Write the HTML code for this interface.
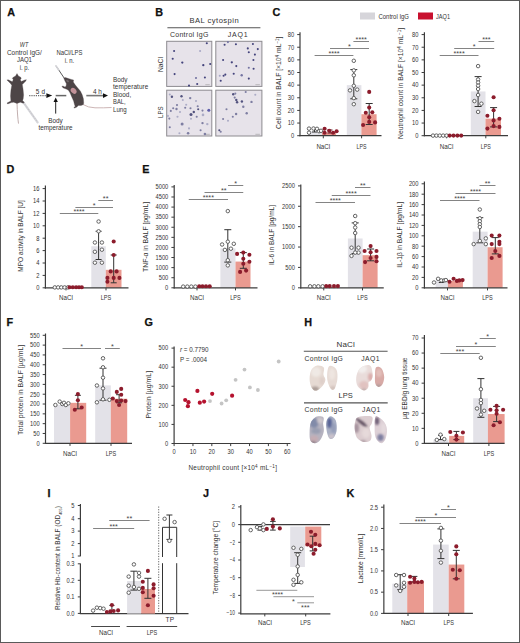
<!DOCTYPE html>
<html><head><meta charset="utf-8"><style>
html,body{margin:0;padding:0;background:#fff;}
body{width:520px;height:643px;overflow:hidden;}
svg{display:block;font-family:"Liberation Sans", sans-serif;}
</style></head><body>
<svg width="520" height="643" viewBox="0 0 520 643">
<rect x="0" y="0" width="520" height="643" fill="#fff"/>
<text x="7.2" y="15.9" font-size="10.8" text-anchor="start" fill="#111" font-weight="bold" stroke="#111" stroke-width="0.25">A</text>
<text x="155.2" y="16.3" font-size="10.8" text-anchor="start" fill="#111" font-weight="bold" stroke="#111" stroke-width="0.25">B</text>
<text x="272.6" y="16.3" font-size="10.8" text-anchor="start" fill="#111" font-weight="bold" stroke="#111" stroke-width="0.25">C</text>
<text x="6.4" y="173.1" font-size="10.8" text-anchor="start" fill="#111" font-weight="bold" stroke="#111" stroke-width="0.25">D</text>
<text x="142.2" y="173.3" font-size="10.8" text-anchor="start" fill="#111" font-weight="bold" stroke="#111" stroke-width="0.25">E</text>
<text x="6.4" y="325.9" font-size="10.8" text-anchor="start" fill="#111" font-weight="bold" stroke="#111" stroke-width="0.25">F</text>
<text x="144.6" y="326.1" font-size="10.8" text-anchor="start" fill="#111" font-weight="bold" stroke="#111" stroke-width="0.25">G</text>
<text x="304.2" y="326.3" font-size="10.8" text-anchor="start" fill="#111" font-weight="bold" stroke="#111" stroke-width="0.25">H</text>
<text x="47.4" y="496.7" font-size="10.8" text-anchor="start" fill="#111" font-weight="bold" stroke="#111" stroke-width="0.25">I</text>
<text x="203" y="497.1" font-size="10.8" text-anchor="start" fill="#111" font-weight="bold" stroke="#111" stroke-width="0.25">J</text>
<text x="346.4" y="497.1" font-size="10.8" text-anchor="start" fill="#111" font-weight="bold" stroke="#111" stroke-width="0.25">K</text>
<rect x="360" y="12.5" width="15" height="7" fill="#d6d5da"/>
<text x="378.5" y="18.6" font-size="6.6" text-anchor="start" fill="#333333" textLength="30.5" lengthAdjust="spacingAndGlyphs">Control IgG</text>
<rect x="418" y="12.5" width="15" height="7" fill="#c8102e"/>
<text x="436" y="18.6" font-size="6.6" text-anchor="start" fill="#333333" textLength="14" lengthAdjust="spacingAndGlyphs">JAQ1</text>
<rect x="308" y="131.28" width="14" height="4.42" fill="#e3e2e8"/>
<rect x="322" y="132.54" width="14" height="3.16" fill="#ea9a90"/>
<rect x="346.8" y="85.14" width="14.6" height="50.56" fill="#e3e2e8"/>
<rect x="361.4" y="114.21" width="15.2" height="21.49" fill="#ea9a90"/>
<line x1="300" y1="32.3" x2="300" y2="136.3" stroke="#3c3c3c" stroke-width="1.2"/>
<line x1="299.4" y1="135.7" x2="381.5" y2="135.7" stroke="#3c3c3c" stroke-width="1.2"/>
<line x1="297.2" y1="135.7" x2="300" y2="135.7" stroke="#3c3c3c" stroke-width="1"/>
<text x="294.1" y="138" font-size="6.4" text-anchor="end" fill="#333333" textLength="3.2" lengthAdjust="spacingAndGlyphs">0</text>
<line x1="297.2" y1="123.06" x2="300" y2="123.06" stroke="#3c3c3c" stroke-width="1"/>
<text x="294.1" y="125.36" font-size="6.4" text-anchor="end" fill="#333333" textLength="6.41" lengthAdjust="spacingAndGlyphs">10</text>
<line x1="297.2" y1="110.42" x2="300" y2="110.42" stroke="#3c3c3c" stroke-width="1"/>
<text x="294.1" y="112.72" font-size="6.4" text-anchor="end" fill="#333333" textLength="6.41" lengthAdjust="spacingAndGlyphs">20</text>
<line x1="297.2" y1="97.78" x2="300" y2="97.78" stroke="#3c3c3c" stroke-width="1"/>
<text x="294.1" y="100.08" font-size="6.4" text-anchor="end" fill="#333333" textLength="6.41" lengthAdjust="spacingAndGlyphs">30</text>
<line x1="297.2" y1="85.14" x2="300" y2="85.14" stroke="#3c3c3c" stroke-width="1"/>
<text x="294.1" y="87.44" font-size="6.4" text-anchor="end" fill="#333333" textLength="6.41" lengthAdjust="spacingAndGlyphs">40</text>
<line x1="297.2" y1="72.5" x2="300" y2="72.5" stroke="#3c3c3c" stroke-width="1"/>
<text x="294.1" y="74.8" font-size="6.4" text-anchor="end" fill="#333333" textLength="6.41" lengthAdjust="spacingAndGlyphs">50</text>
<line x1="297.2" y1="59.86" x2="300" y2="59.86" stroke="#3c3c3c" stroke-width="1"/>
<text x="294.1" y="62.16" font-size="6.4" text-anchor="end" fill="#333333" textLength="6.41" lengthAdjust="spacingAndGlyphs">60</text>
<line x1="297.2" y1="47.22" x2="300" y2="47.22" stroke="#3c3c3c" stroke-width="1"/>
<text x="294.1" y="49.52" font-size="6.4" text-anchor="end" fill="#333333" textLength="6.41" lengthAdjust="spacingAndGlyphs">70</text>
<line x1="297.2" y1="34.58" x2="300" y2="34.58" stroke="#3c3c3c" stroke-width="1"/>
<text x="294.1" y="36.88" font-size="6.4" text-anchor="end" fill="#333333" textLength="6.41" lengthAdjust="spacingAndGlyphs">80</text>
<line x1="314.6" y1="55.5" x2="353.4" y2="55.5" stroke="#767676" stroke-width="0.9"/>
<text x="334" y="55.8" font-size="7.2" text-anchor="middle" fill="#444">****</text>
<line x1="330" y1="48.5" x2="369" y2="48.5" stroke="#767676" stroke-width="0.9"/>
<text x="349.5" y="48.8" font-size="7.2" text-anchor="middle" fill="#444">*</text>
<line x1="353.4" y1="41.5" x2="369" y2="41.5" stroke="#767676" stroke-width="0.9"/>
<text x="361.2" y="41.8" font-size="7.2" text-anchor="middle" fill="#444">****</text>
<text x="323.3" y="148.7" font-size="7" text-anchor="middle" fill="#333333" textLength="13.8" lengthAdjust="spacingAndGlyphs">NaCl</text>
<line x1="323.3" y1="135.7" x2="323.3" y2="138.3" stroke="#3c3c3c" stroke-width="1"/>
<text x="361.6" y="148.7" font-size="7" text-anchor="middle" fill="#333333" textLength="10" lengthAdjust="spacingAndGlyphs">LPS</text>
<line x1="361.6" y1="135.7" x2="361.6" y2="138.3" stroke="#3c3c3c" stroke-width="1"/>
<text x="281" y="82.7" font-size="6.9" text-anchor="middle" fill="#333333" textLength="92.4" lengthAdjust="spacingAndGlyphs" transform="rotate(-90 281 82.7)">Cell count in BALF [×10<tspan dy="-2.4" font-size="4.6">4</tspan><tspan dy="2.4"> mL</tspan><tspan dy="-2.4" font-size="4.6">−1</tspan><tspan dy="2.4">]</tspan></text>
<line x1="314.5" y1="129" x2="314.5" y2="132" stroke="#333" stroke-width="1"/>
<line x1="312" y1="129" x2="317" y2="129" stroke="#333" stroke-width="1"/>
<line x1="312" y1="132" x2="317" y2="132" stroke="#333" stroke-width="1"/>
<circle cx="309" cy="128.6" r="1.75" fill="#fff" stroke="#5c5c5c" stroke-width="0.95"/>
<circle cx="309" cy="132.7" r="1.75" fill="#fff" stroke="#5c5c5c" stroke-width="0.95"/>
<circle cx="313.5" cy="128.5" r="1.75" fill="#fff" stroke="#5c5c5c" stroke-width="0.95"/>
<circle cx="317" cy="128.8" r="1.75" fill="#fff" stroke="#5c5c5c" stroke-width="0.95"/>
<circle cx="319" cy="131.2" r="1.75" fill="#fff" stroke="#5c5c5c" stroke-width="0.95"/>
<circle cx="321" cy="130.8" r="1.75" fill="#fff" stroke="#5c5c5c" stroke-width="0.95"/>
<line x1="330" y1="130" x2="330" y2="133" stroke="#5a1a22" stroke-width="1"/>
<line x1="327.5" y1="130" x2="332.5" y2="130" stroke="#5a1a22" stroke-width="1"/>
<line x1="327.5" y1="133" x2="332.5" y2="133" stroke="#5a1a22" stroke-width="1"/>
<circle cx="324.6" cy="128.8" r="2.05" fill="#8c1c2c"/>
<circle cx="324.6" cy="132.7" r="2.05" fill="#8c1c2c"/>
<circle cx="329.2" cy="130.7" r="2.05" fill="#8c1c2c"/>
<circle cx="333.1" cy="132.7" r="2.05" fill="#8c1c2c"/>
<circle cx="336.6" cy="131.2" r="2.05" fill="#8c1c2c"/>
<line x1="353.8" y1="98.8" x2="353.8" y2="69.6" stroke="#333" stroke-width="1"/>
<line x1="350.3" y1="98.8" x2="357.3" y2="98.8" stroke="#333" stroke-width="1"/>
<line x1="350.3" y1="69.6" x2="357.3" y2="69.6" stroke="#333" stroke-width="1"/>
<circle cx="353.8" cy="60.8" r="1.75" fill="#fff" stroke="#5c5c5c" stroke-width="0.95"/>
<circle cx="353.8" cy="70.4" r="1.75" fill="#fff" stroke="#5c5c5c" stroke-width="0.95"/>
<circle cx="353.8" cy="75.3" r="1.75" fill="#fff" stroke="#5c5c5c" stroke-width="0.95"/>
<circle cx="353.8" cy="85.8" r="1.75" fill="#fff" stroke="#5c5c5c" stroke-width="0.95"/>
<circle cx="350" cy="90.4" r="1.75" fill="#fff" stroke="#5c5c5c" stroke-width="0.95"/>
<circle cx="357.2" cy="89.6" r="1.75" fill="#fff" stroke="#5c5c5c" stroke-width="0.95"/>
<circle cx="353.8" cy="98.1" r="1.75" fill="#fff" stroke="#5c5c5c" stroke-width="0.95"/>
<circle cx="353.8" cy="104.2" r="1.75" fill="#fff" stroke="#5c5c5c" stroke-width="0.95"/>
<line x1="369.2" y1="124.5" x2="369.2" y2="103.5" stroke="#333" stroke-width="1"/>
<line x1="365.7" y1="124.5" x2="372.7" y2="124.5" stroke="#333" stroke-width="1"/>
<line x1="365.7" y1="103.5" x2="372.7" y2="103.5" stroke="#333" stroke-width="1"/>
<circle cx="369.2" cy="91.9" r="2.05" fill="#8c1c2c"/>
<circle cx="369.2" cy="107.6" r="2.05" fill="#8c1c2c"/>
<circle cx="365.8" cy="112.7" r="2.05" fill="#8c1c2c"/>
<circle cx="372.3" cy="112.2" r="2.05" fill="#8c1c2c"/>
<circle cx="369.2" cy="117.3" r="2.05" fill="#8c1c2c"/>
<circle cx="369.2" cy="121.9" r="2.05" fill="#8c1c2c"/>
<circle cx="363.1" cy="125" r="2.05" fill="#8c1c2c"/>
<circle cx="375.1" cy="122.4" r="2.05" fill="#8c1c2c"/>
<rect x="470.8" y="91.46" width="14.7" height="44.24" fill="#e3e2e8"/>
<rect x="485.5" y="118.64" width="15.5" height="17.06" fill="#ea9a90"/>
<line x1="424.4" y1="32.3" x2="424.4" y2="136.3" stroke="#3c3c3c" stroke-width="1.2"/>
<line x1="423.8" y1="135.7" x2="508" y2="135.7" stroke="#3c3c3c" stroke-width="1.2"/>
<line x1="421.6" y1="135.7" x2="424.4" y2="135.7" stroke="#3c3c3c" stroke-width="1"/>
<text x="418.5" y="138" font-size="6.4" text-anchor="end" fill="#333333" textLength="3.2" lengthAdjust="spacingAndGlyphs">0</text>
<line x1="421.6" y1="123.06" x2="424.4" y2="123.06" stroke="#3c3c3c" stroke-width="1"/>
<text x="418.5" y="125.36" font-size="6.4" text-anchor="end" fill="#333333" textLength="6.41" lengthAdjust="spacingAndGlyphs">10</text>
<line x1="421.6" y1="110.42" x2="424.4" y2="110.42" stroke="#3c3c3c" stroke-width="1"/>
<text x="418.5" y="112.72" font-size="6.4" text-anchor="end" fill="#333333" textLength="6.41" lengthAdjust="spacingAndGlyphs">20</text>
<line x1="421.6" y1="97.78" x2="424.4" y2="97.78" stroke="#3c3c3c" stroke-width="1"/>
<text x="418.5" y="100.08" font-size="6.4" text-anchor="end" fill="#333333" textLength="6.41" lengthAdjust="spacingAndGlyphs">30</text>
<line x1="421.6" y1="85.14" x2="424.4" y2="85.14" stroke="#3c3c3c" stroke-width="1"/>
<text x="418.5" y="87.44" font-size="6.4" text-anchor="end" fill="#333333" textLength="6.41" lengthAdjust="spacingAndGlyphs">40</text>
<line x1="421.6" y1="72.5" x2="424.4" y2="72.5" stroke="#3c3c3c" stroke-width="1"/>
<text x="418.5" y="74.8" font-size="6.4" text-anchor="end" fill="#333333" textLength="6.41" lengthAdjust="spacingAndGlyphs">50</text>
<line x1="421.6" y1="59.86" x2="424.4" y2="59.86" stroke="#3c3c3c" stroke-width="1"/>
<text x="418.5" y="62.16" font-size="6.4" text-anchor="end" fill="#333333" textLength="6.41" lengthAdjust="spacingAndGlyphs">60</text>
<line x1="421.6" y1="47.22" x2="424.4" y2="47.22" stroke="#3c3c3c" stroke-width="1"/>
<text x="418.5" y="49.52" font-size="6.4" text-anchor="end" fill="#333333" textLength="6.41" lengthAdjust="spacingAndGlyphs">70</text>
<line x1="421.6" y1="34.58" x2="424.4" y2="34.58" stroke="#3c3c3c" stroke-width="1"/>
<text x="418.5" y="36.88" font-size="6.4" text-anchor="end" fill="#333333" textLength="6.41" lengthAdjust="spacingAndGlyphs">80</text>
<line x1="439.7" y1="55.5" x2="478.5" y2="55.5" stroke="#767676" stroke-width="0.9"/>
<text x="459.1" y="55.8" font-size="7.2" text-anchor="middle" fill="#444">****</text>
<line x1="454.2" y1="48.5" x2="494.2" y2="48.5" stroke="#767676" stroke-width="0.9"/>
<text x="474.2" y="48.8" font-size="7.2" text-anchor="middle" fill="#444">*</text>
<line x1="478.5" y1="41.5" x2="494.2" y2="41.5" stroke="#767676" stroke-width="0.9"/>
<text x="486.35" y="41.8" font-size="7.2" text-anchor="middle" fill="#444">***</text>
<text x="446.6" y="148.7" font-size="7" text-anchor="middle" fill="#333333" textLength="13.8" lengthAdjust="spacingAndGlyphs">NaCl</text>
<line x1="446.6" y1="135.7" x2="446.6" y2="138.3" stroke="#3c3c3c" stroke-width="1"/>
<text x="485.8" y="148.7" font-size="7" text-anchor="middle" fill="#333333" textLength="10" lengthAdjust="spacingAndGlyphs">LPS</text>
<line x1="485.8" y1="135.7" x2="485.8" y2="138.3" stroke="#3c3c3c" stroke-width="1"/>
<text x="403" y="83.4" font-size="6.9" text-anchor="middle" fill="#333333" textLength="111" lengthAdjust="spacingAndGlyphs" transform="rotate(-90 403 83.4)">Neutrophil count in BALF [×10<tspan dy="-2.4" font-size="4.6">4</tspan><tspan dy="2.4"> mL</tspan><tspan dy="-2.4" font-size="4.6">−1</tspan><tspan dy="2.4">]</tspan></text>
<circle cx="433" cy="135.6" r="1.75" fill="#fff" stroke="#5c5c5c" stroke-width="0.95"/>
<circle cx="436.4" cy="135.6" r="1.75" fill="#fff" stroke="#5c5c5c" stroke-width="0.95"/>
<circle cx="439.8" cy="135.6" r="1.75" fill="#fff" stroke="#5c5c5c" stroke-width="0.95"/>
<circle cx="443.2" cy="135.6" r="1.75" fill="#fff" stroke="#5c5c5c" stroke-width="0.95"/>
<circle cx="446.6" cy="135.6" r="1.75" fill="#fff" stroke="#5c5c5c" stroke-width="0.95"/>
<circle cx="449.7" cy="135.6" r="2.05" fill="#8c1c2c"/>
<circle cx="453.5" cy="135.6" r="2.05" fill="#8c1c2c"/>
<circle cx="457.4" cy="135.6" r="2.05" fill="#8c1c2c"/>
<circle cx="461.2" cy="135.6" r="2.05" fill="#8c1c2c"/>
<line x1="478.1" y1="106.5" x2="478.1" y2="76.6" stroke="#333" stroke-width="1"/>
<line x1="474.6" y1="106.5" x2="481.6" y2="106.5" stroke="#333" stroke-width="1"/>
<line x1="474.6" y1="76.6" x2="481.6" y2="76.6" stroke="#333" stroke-width="1"/>
<circle cx="478.1" cy="66.1" r="1.75" fill="#fff" stroke="#5c5c5c" stroke-width="0.95"/>
<circle cx="478.1" cy="79.5" r="1.75" fill="#fff" stroke="#5c5c5c" stroke-width="0.95"/>
<circle cx="478.1" cy="82.5" r="1.75" fill="#fff" stroke="#5c5c5c" stroke-width="0.95"/>
<circle cx="478.1" cy="85.7" r="1.75" fill="#fff" stroke="#5c5c5c" stroke-width="0.95"/>
<circle cx="478.1" cy="89" r="1.75" fill="#fff" stroke="#5c5c5c" stroke-width="0.95"/>
<circle cx="478.1" cy="95" r="1.75" fill="#fff" stroke="#5c5c5c" stroke-width="0.95"/>
<circle cx="474.4" cy="101.1" r="1.75" fill="#fff" stroke="#5c5c5c" stroke-width="0.95"/>
<circle cx="481.4" cy="103.7" r="1.75" fill="#fff" stroke="#5c5c5c" stroke-width="0.95"/>
<circle cx="478.1" cy="111.9" r="1.75" fill="#fff" stroke="#5c5c5c" stroke-width="0.95"/>
<line x1="493.6" y1="126.9" x2="493.6" y2="107.6" stroke="#333" stroke-width="1"/>
<line x1="490.1" y1="126.9" x2="497.1" y2="126.9" stroke="#333" stroke-width="1"/>
<line x1="490.1" y1="107.6" x2="497.1" y2="107.6" stroke="#333" stroke-width="1"/>
<circle cx="493.6" cy="97.2" r="2.05" fill="#8c1c2c"/>
<circle cx="487.4" cy="115.8" r="2.05" fill="#8c1c2c"/>
<circle cx="493.6" cy="110.2" r="2.05" fill="#8c1c2c"/>
<circle cx="499.4" cy="118.7" r="2.05" fill="#8c1c2c"/>
<circle cx="493.6" cy="120.4" r="2.05" fill="#8c1c2c"/>
<circle cx="493.6" cy="126.1" r="2.05" fill="#8c1c2c"/>
<circle cx="487.4" cy="128.6" r="2.05" fill="#8c1c2c"/>
<circle cx="499.4" cy="126.9" r="2.05" fill="#8c1c2c"/>
<rect x="91.3" y="246.26" width="14.5" height="41.54" fill="#e3e2e8"/>
<rect x="105.8" y="269.82" width="15.7" height="17.98" fill="#ea9a90"/>
<line x1="45.4" y1="185.5" x2="45.4" y2="288.4" stroke="#3c3c3c" stroke-width="1.2"/>
<line x1="44.8" y1="287.8" x2="128.5" y2="287.8" stroke="#3c3c3c" stroke-width="1.2"/>
<line x1="42.6" y1="287.8" x2="45.4" y2="287.8" stroke="#3c3c3c" stroke-width="1"/>
<text x="39.5" y="290.1" font-size="6.4" text-anchor="end" fill="#333333" textLength="3.2" lengthAdjust="spacingAndGlyphs">0</text>
<line x1="42.6" y1="275.4" x2="45.4" y2="275.4" stroke="#3c3c3c" stroke-width="1"/>
<text x="39.5" y="277.7" font-size="6.4" text-anchor="end" fill="#333333" textLength="3.2" lengthAdjust="spacingAndGlyphs">2</text>
<line x1="42.6" y1="263" x2="45.4" y2="263" stroke="#3c3c3c" stroke-width="1"/>
<text x="39.5" y="265.3" font-size="6.4" text-anchor="end" fill="#333333" textLength="3.2" lengthAdjust="spacingAndGlyphs">4</text>
<line x1="42.6" y1="250.6" x2="45.4" y2="250.6" stroke="#3c3c3c" stroke-width="1"/>
<text x="39.5" y="252.9" font-size="6.4" text-anchor="end" fill="#333333" textLength="3.2" lengthAdjust="spacingAndGlyphs">6</text>
<line x1="42.6" y1="238.2" x2="45.4" y2="238.2" stroke="#3c3c3c" stroke-width="1"/>
<text x="39.5" y="240.5" font-size="6.4" text-anchor="end" fill="#333333" textLength="3.2" lengthAdjust="spacingAndGlyphs">8</text>
<line x1="42.6" y1="225.8" x2="45.4" y2="225.8" stroke="#3c3c3c" stroke-width="1"/>
<text x="39.5" y="228.1" font-size="6.4" text-anchor="end" fill="#333333" textLength="6.41" lengthAdjust="spacingAndGlyphs">10</text>
<line x1="42.6" y1="213.4" x2="45.4" y2="213.4" stroke="#3c3c3c" stroke-width="1"/>
<text x="39.5" y="215.7" font-size="6.4" text-anchor="end" fill="#333333" textLength="6.41" lengthAdjust="spacingAndGlyphs">12</text>
<line x1="42.6" y1="201" x2="45.4" y2="201" stroke="#3c3c3c" stroke-width="1"/>
<text x="39.5" y="203.3" font-size="6.4" text-anchor="end" fill="#333333" textLength="6.41" lengthAdjust="spacingAndGlyphs">14</text>
<line x1="42.6" y1="188.6" x2="45.4" y2="188.6" stroke="#3c3c3c" stroke-width="1"/>
<text x="39.5" y="190.9" font-size="6.4" text-anchor="end" fill="#333333" textLength="6.41" lengthAdjust="spacingAndGlyphs">16</text>
<line x1="59.8" y1="213.5" x2="98.3" y2="213.5" stroke="#767676" stroke-width="0.9"/>
<text x="79.05" y="213.8" font-size="7.2" text-anchor="middle" fill="#444">****</text>
<line x1="75.4" y1="207.5" x2="113" y2="207.5" stroke="#767676" stroke-width="0.9"/>
<text x="94.2" y="207.8" font-size="7.2" text-anchor="middle" fill="#444">*</text>
<line x1="98.3" y1="200.5" x2="113" y2="200.5" stroke="#767676" stroke-width="0.9"/>
<text x="105.65" y="200.8" font-size="7.2" text-anchor="middle" fill="#444">**</text>
<text x="66" y="300.4" font-size="7" text-anchor="middle" fill="#333333" textLength="13.8" lengthAdjust="spacingAndGlyphs">NaCl</text>
<line x1="66" y1="287.8" x2="66" y2="290.4" stroke="#3c3c3c" stroke-width="1"/>
<text x="106" y="300.4" font-size="7" text-anchor="middle" fill="#333333" textLength="10.5" lengthAdjust="spacingAndGlyphs">LPS</text>
<line x1="106" y1="287.8" x2="106" y2="290.4" stroke="#3c3c3c" stroke-width="1"/>
<text x="22.6" y="236" font-size="6.9" text-anchor="middle" fill="#333333" textLength="71.4" lengthAdjust="spacingAndGlyphs" transform="rotate(-90 22.6 236)">MPO activity in BALF [U]</text>
<circle cx="54.8" cy="287.4" r="1.75" fill="#fff" stroke="#5c5c5c" stroke-width="0.95"/>
<circle cx="58.1" cy="287.4" r="1.75" fill="#fff" stroke="#5c5c5c" stroke-width="0.95"/>
<circle cx="61.3" cy="287.4" r="1.75" fill="#fff" stroke="#5c5c5c" stroke-width="0.95"/>
<circle cx="64.6" cy="287.4" r="1.75" fill="#fff" stroke="#5c5c5c" stroke-width="0.95"/>
<circle cx="67.9" cy="287.4" r="1.75" fill="#fff" stroke="#5c5c5c" stroke-width="0.95"/>
<circle cx="69.5" cy="287.2" r="2.05" fill="#8c1c2c"/>
<circle cx="72.8" cy="287.2" r="2.05" fill="#8c1c2c"/>
<circle cx="76.1" cy="287.2" r="2.05" fill="#8c1c2c"/>
<circle cx="79" cy="287.2" r="2.05" fill="#8c1c2c"/>
<circle cx="81.8" cy="287.2" r="2.05" fill="#8c1c2c"/>
<line x1="98.6" y1="259.5" x2="98.6" y2="231.3" stroke="#333" stroke-width="1"/>
<line x1="95.6" y1="259.5" x2="101.6" y2="259.5" stroke="#333" stroke-width="1"/>
<line x1="95.6" y1="231.3" x2="101.6" y2="231.3" stroke="#333" stroke-width="1"/>
<circle cx="98.6" cy="221.5" r="1.75" fill="#fff" stroke="#5c5c5c" stroke-width="0.95"/>
<circle cx="98.6" cy="231.3" r="1.75" fill="#fff" stroke="#5c5c5c" stroke-width="0.95"/>
<circle cx="94.9" cy="242.5" r="1.75" fill="#fff" stroke="#5c5c5c" stroke-width="0.95"/>
<circle cx="101.9" cy="242.5" r="1.75" fill="#fff" stroke="#5c5c5c" stroke-width="0.95"/>
<circle cx="94.9" cy="251.8" r="1.75" fill="#fff" stroke="#5c5c5c" stroke-width="0.95"/>
<circle cx="101.9" cy="249.7" r="1.75" fill="#fff" stroke="#5c5c5c" stroke-width="0.95"/>
<circle cx="94.9" cy="262.7" r="1.75" fill="#fff" stroke="#5c5c5c" stroke-width="0.95"/>
<circle cx="101.9" cy="262.7" r="1.75" fill="#fff" stroke="#5c5c5c" stroke-width="0.95"/>
<line x1="113.7" y1="282.8" x2="113.7" y2="255" stroke="#333" stroke-width="1"/>
<line x1="110.7" y1="282.8" x2="116.7" y2="282.8" stroke="#333" stroke-width="1"/>
<line x1="110.7" y1="255" x2="116.7" y2="255" stroke="#333" stroke-width="1"/>
<circle cx="113.7" cy="241.5" r="2.05" fill="#8c1c2c"/>
<circle cx="113.7" cy="255" r="2.05" fill="#8c1c2c"/>
<circle cx="110.7" cy="271.4" r="2.05" fill="#8c1c2c"/>
<circle cx="116.6" cy="271.4" r="2.05" fill="#8c1c2c"/>
<circle cx="107.4" cy="277.9" r="2.05" fill="#8c1c2c"/>
<circle cx="113.7" cy="277.9" r="2.05" fill="#8c1c2c"/>
<circle cx="119.4" cy="277.9" r="2.05" fill="#8c1c2c"/>
<circle cx="107.4" cy="281.7" r="2.05" fill="#8c1c2c"/>
<rect x="183" y="287.19" width="14" height="0.61" fill="#e3e2e8"/>
<rect x="197" y="286.79" width="14" height="1.01" fill="#ea9a90"/>
<rect x="220.4" y="248.45" width="15.1" height="39.35" fill="#e3e2e8"/>
<rect x="235.5" y="261.57" width="15" height="26.23" fill="#ea9a90"/>
<line x1="174.2" y1="185" x2="174.2" y2="288.4" stroke="#3c3c3c" stroke-width="1.2"/>
<line x1="173.6" y1="287.8" x2="257.5" y2="287.8" stroke="#3c3c3c" stroke-width="1.2"/>
<line x1="171.4" y1="287.8" x2="174.2" y2="287.8" stroke="#3c3c3c" stroke-width="1"/>
<text x="168.3" y="290.1" font-size="6.4" text-anchor="end" fill="#333333" textLength="3.2" lengthAdjust="spacingAndGlyphs">0</text>
<line x1="171.4" y1="277.71" x2="174.2" y2="277.71" stroke="#3c3c3c" stroke-width="1"/>
<text x="168.3" y="280.01" font-size="6.4" text-anchor="end" fill="#333333" textLength="9.61" lengthAdjust="spacingAndGlyphs">500</text>
<line x1="171.4" y1="267.62" x2="174.2" y2="267.62" stroke="#3c3c3c" stroke-width="1"/>
<text x="168.3" y="269.92" font-size="6.4" text-anchor="end" fill="#333333" textLength="12.81" lengthAdjust="spacingAndGlyphs">1000</text>
<line x1="171.4" y1="257.53" x2="174.2" y2="257.53" stroke="#3c3c3c" stroke-width="1"/>
<text x="168.3" y="259.83" font-size="6.4" text-anchor="end" fill="#333333" textLength="12.81" lengthAdjust="spacingAndGlyphs">1500</text>
<line x1="171.4" y1="247.44" x2="174.2" y2="247.44" stroke="#3c3c3c" stroke-width="1"/>
<text x="168.3" y="249.74" font-size="6.4" text-anchor="end" fill="#333333" textLength="12.81" lengthAdjust="spacingAndGlyphs">2000</text>
<line x1="171.4" y1="237.35" x2="174.2" y2="237.35" stroke="#3c3c3c" stroke-width="1"/>
<text x="168.3" y="239.65" font-size="6.4" text-anchor="end" fill="#333333" textLength="12.81" lengthAdjust="spacingAndGlyphs">2500</text>
<line x1="171.4" y1="227.26" x2="174.2" y2="227.26" stroke="#3c3c3c" stroke-width="1"/>
<text x="168.3" y="229.56" font-size="6.4" text-anchor="end" fill="#333333" textLength="12.81" lengthAdjust="spacingAndGlyphs">3000</text>
<line x1="171.4" y1="217.17" x2="174.2" y2="217.17" stroke="#3c3c3c" stroke-width="1"/>
<text x="168.3" y="219.47" font-size="6.4" text-anchor="end" fill="#333333" textLength="12.81" lengthAdjust="spacingAndGlyphs">3500</text>
<line x1="171.4" y1="207.08" x2="174.2" y2="207.08" stroke="#3c3c3c" stroke-width="1"/>
<text x="168.3" y="209.38" font-size="6.4" text-anchor="end" fill="#333333" textLength="12.81" lengthAdjust="spacingAndGlyphs">4000</text>
<line x1="171.4" y1="196.99" x2="174.2" y2="196.99" stroke="#3c3c3c" stroke-width="1"/>
<text x="168.3" y="199.29" font-size="6.4" text-anchor="end" fill="#333333" textLength="12.81" lengthAdjust="spacingAndGlyphs">4500</text>
<line x1="171.4" y1="186.9" x2="174.2" y2="186.9" stroke="#3c3c3c" stroke-width="1"/>
<text x="168.3" y="189.2" font-size="6.4" text-anchor="end" fill="#333333" textLength="12.81" lengthAdjust="spacingAndGlyphs">5000</text>
<line x1="188.75" y1="199.5" x2="228" y2="199.5" stroke="#767676" stroke-width="0.9"/>
<text x="208.38" y="199.8" font-size="7.2" text-anchor="middle" fill="#444">****</text>
<line x1="204.5" y1="192.5" x2="243.25" y2="192.5" stroke="#767676" stroke-width="0.9"/>
<text x="223.88" y="192.8" font-size="7.2" text-anchor="middle" fill="#444">**</text>
<line x1="228" y1="185.5" x2="243.25" y2="185.5" stroke="#767676" stroke-width="0.9"/>
<text x="235.62" y="185.8" font-size="7.2" text-anchor="middle" fill="#444">*</text>
<text x="197" y="300.4" font-size="7" text-anchor="middle" fill="#333333" textLength="13.8" lengthAdjust="spacingAndGlyphs">NaCl</text>
<line x1="197" y1="287.8" x2="197" y2="290.4" stroke="#3c3c3c" stroke-width="1"/>
<text x="235.5" y="300.4" font-size="7" text-anchor="middle" fill="#333333" textLength="10.5" lengthAdjust="spacingAndGlyphs">LPS</text>
<line x1="235.5" y1="287.8" x2="235.5" y2="290.4" stroke="#3c3c3c" stroke-width="1"/>
<text x="148.4" y="236.9" font-size="6.9" text-anchor="middle" fill="#333333" textLength="70" lengthAdjust="spacingAndGlyphs" transform="rotate(-90 148.4 236.9)">TNF-α in BALF [pg/mL]</text>
<circle cx="183.2" cy="286.6" r="1.75" fill="#fff" stroke="#5c5c5c" stroke-width="0.95"/>
<circle cx="187.3" cy="286.6" r="1.75" fill="#fff" stroke="#5c5c5c" stroke-width="0.95"/>
<circle cx="191.3" cy="286.6" r="1.75" fill="#fff" stroke="#5c5c5c" stroke-width="0.95"/>
<circle cx="195.4" cy="286.6" r="1.75" fill="#fff" stroke="#5c5c5c" stroke-width="0.95"/>
<circle cx="199.2" cy="286.2" r="2.05" fill="#8c1c2c"/>
<circle cx="202.5" cy="286.2" r="2.05" fill="#8c1c2c"/>
<circle cx="206" cy="286.2" r="2.05" fill="#8c1c2c"/>
<circle cx="209.7" cy="286.2" r="2.05" fill="#8c1c2c"/>
<line x1="227.8" y1="262.1" x2="227.8" y2="229.7" stroke="#333" stroke-width="1"/>
<line x1="224.3" y1="262.1" x2="231.3" y2="262.1" stroke="#333" stroke-width="1"/>
<line x1="224.3" y1="229.7" x2="231.3" y2="229.7" stroke="#333" stroke-width="1"/>
<circle cx="227.8" cy="211.1" r="1.75" fill="#fff" stroke="#5c5c5c" stroke-width="0.95"/>
<circle cx="227.8" cy="241.7" r="1.75" fill="#fff" stroke="#5c5c5c" stroke-width="0.95"/>
<circle cx="222.1" cy="244.5" r="1.75" fill="#fff" stroke="#5c5c5c" stroke-width="0.95"/>
<circle cx="233.8" cy="243.8" r="1.75" fill="#fff" stroke="#5c5c5c" stroke-width="0.95"/>
<circle cx="224.9" cy="249.9" r="1.75" fill="#fff" stroke="#5c5c5c" stroke-width="0.95"/>
<circle cx="230.9" cy="248.7" r="1.75" fill="#fff" stroke="#5c5c5c" stroke-width="0.95"/>
<circle cx="227.8" cy="260.2" r="1.75" fill="#fff" stroke="#5c5c5c" stroke-width="0.95"/>
<circle cx="227.8" cy="265.4" r="1.75" fill="#fff" stroke="#5c5c5c" stroke-width="0.95"/>
<line x1="243.3" y1="268.3" x2="243.3" y2="252.6" stroke="#333" stroke-width="1"/>
<line x1="239.8" y1="268.3" x2="246.8" y2="268.3" stroke="#333" stroke-width="1"/>
<line x1="239.8" y1="252.6" x2="246.8" y2="252.6" stroke="#333" stroke-width="1"/>
<circle cx="237.1" cy="253.9" r="2.05" fill="#8c1c2c"/>
<circle cx="243.3" cy="252.6" r="2.05" fill="#8c1c2c"/>
<circle cx="249.4" cy="254.8" r="2.05" fill="#8c1c2c"/>
<circle cx="243.3" cy="258.8" r="2.05" fill="#8c1c2c"/>
<circle cx="249.4" cy="261.8" r="2.05" fill="#8c1c2c"/>
<circle cx="243.3" cy="263.7" r="2.05" fill="#8c1c2c"/>
<circle cx="240.1" cy="271.9" r="2.05" fill="#8c1c2c"/>
<circle cx="246.1" cy="270.6" r="2.05" fill="#8c1c2c"/>
<rect x="309" y="286.98" width="14.75" height="0.82" fill="#e3e2e8"/>
<rect x="323.75" y="286.78" width="14.25" height="1.02" fill="#ea9a90"/>
<rect x="347.9" y="238.48" width="14.7" height="49.32" fill="#e3e2e8"/>
<rect x="362.6" y="255.19" width="15" height="32.61" fill="#ea9a90"/>
<line x1="300.8" y1="184.5" x2="300.8" y2="288.4" stroke="#3c3c3c" stroke-width="1.2"/>
<line x1="300.2" y1="287.8" x2="383.75" y2="287.8" stroke="#3c3c3c" stroke-width="1.2"/>
<line x1="298" y1="287.8" x2="300.8" y2="287.8" stroke="#3c3c3c" stroke-width="1"/>
<text x="294.9" y="290.1" font-size="6.4" text-anchor="end" fill="#333333" textLength="3.2" lengthAdjust="spacingAndGlyphs">0</text>
<line x1="298" y1="267.42" x2="300.8" y2="267.42" stroke="#3c3c3c" stroke-width="1"/>
<text x="294.9" y="269.72" font-size="6.4" text-anchor="end" fill="#333333" textLength="9.61" lengthAdjust="spacingAndGlyphs">500</text>
<line x1="298" y1="247.04" x2="300.8" y2="247.04" stroke="#3c3c3c" stroke-width="1"/>
<text x="294.9" y="249.34" font-size="6.4" text-anchor="end" fill="#333333" textLength="12.81" lengthAdjust="spacingAndGlyphs">1000</text>
<line x1="298" y1="226.66" x2="300.8" y2="226.66" stroke="#3c3c3c" stroke-width="1"/>
<text x="294.9" y="228.96" font-size="6.4" text-anchor="end" fill="#333333" textLength="12.81" lengthAdjust="spacingAndGlyphs">1500</text>
<line x1="298" y1="206.28" x2="300.8" y2="206.28" stroke="#3c3c3c" stroke-width="1"/>
<text x="294.9" y="208.58" font-size="6.4" text-anchor="end" fill="#333333" textLength="12.81" lengthAdjust="spacingAndGlyphs">2000</text>
<line x1="298" y1="185.9" x2="300.8" y2="185.9" stroke="#3c3c3c" stroke-width="1"/>
<text x="294.9" y="188.2" font-size="6.4" text-anchor="end" fill="#333333" textLength="12.81" lengthAdjust="spacingAndGlyphs">2500</text>
<line x1="315.5" y1="202.5" x2="355" y2="202.5" stroke="#767676" stroke-width="0.9"/>
<text x="335.25" y="202.8" font-size="7.2" text-anchor="middle" fill="#444">****</text>
<line x1="331.75" y1="195.5" x2="370.5" y2="195.5" stroke="#767676" stroke-width="0.9"/>
<text x="351.12" y="195.8" font-size="7.2" text-anchor="middle" fill="#444">****</text>
<line x1="355" y1="187.5" x2="370.5" y2="187.5" stroke="#767676" stroke-width="0.9"/>
<text x="362.75" y="187.8" font-size="7.2" text-anchor="middle" fill="#444">**</text>
<text x="323.75" y="300.4" font-size="7" text-anchor="middle" fill="#333333" textLength="13.8" lengthAdjust="spacingAndGlyphs">NaCl</text>
<line x1="323.75" y1="287.8" x2="323.75" y2="290.4" stroke="#3c3c3c" stroke-width="1"/>
<text x="362.5" y="300.4" font-size="7" text-anchor="middle" fill="#333333" textLength="10.5" lengthAdjust="spacingAndGlyphs">LPS</text>
<line x1="362.5" y1="287.8" x2="362.5" y2="290.4" stroke="#3c3c3c" stroke-width="1"/>
<text x="273.7" y="235" font-size="6.9" text-anchor="middle" fill="#333333" textLength="60.2" lengthAdjust="spacingAndGlyphs" transform="rotate(-90 273.7 235)">IL-6 in BALF [pg/mL]</text>
<circle cx="310.1" cy="286.3" r="1.75" fill="#fff" stroke="#5c5c5c" stroke-width="0.95"/>
<circle cx="314.4" cy="286.3" r="1.75" fill="#fff" stroke="#5c5c5c" stroke-width="0.95"/>
<circle cx="318.3" cy="286.3" r="1.75" fill="#fff" stroke="#5c5c5c" stroke-width="0.95"/>
<circle cx="322.6" cy="286.3" r="1.75" fill="#fff" stroke="#5c5c5c" stroke-width="0.95"/>
<circle cx="326.2" cy="286.1" r="2.05" fill="#8c1c2c"/>
<circle cx="329.7" cy="286.1" r="2.05" fill="#8c1c2c"/>
<circle cx="334" cy="286.1" r="2.05" fill="#8c1c2c"/>
<circle cx="337.9" cy="286.1" r="2.05" fill="#8c1c2c"/>
<line x1="355.2" y1="253.6" x2="355.2" y2="222.9" stroke="#333" stroke-width="1"/>
<line x1="351.7" y1="253.6" x2="358.7" y2="253.6" stroke="#333" stroke-width="1"/>
<line x1="351.7" y1="222.9" x2="358.7" y2="222.9" stroke="#333" stroke-width="1"/>
<circle cx="355.2" cy="216" r="1.75" fill="#fff" stroke="#5c5c5c" stroke-width="0.95"/>
<circle cx="355.2" cy="223.2" r="1.75" fill="#fff" stroke="#5c5c5c" stroke-width="0.95"/>
<circle cx="355.2" cy="227.5" r="1.75" fill="#fff" stroke="#5c5c5c" stroke-width="0.95"/>
<circle cx="355.2" cy="233" r="1.75" fill="#fff" stroke="#5c5c5c" stroke-width="0.95"/>
<circle cx="351.5" cy="247.7" r="1.75" fill="#fff" stroke="#5c5c5c" stroke-width="0.95"/>
<circle cx="358.5" cy="247.7" r="1.75" fill="#fff" stroke="#5c5c5c" stroke-width="0.95"/>
<circle cx="351.5" cy="255.9" r="1.75" fill="#fff" stroke="#5c5c5c" stroke-width="0.95"/>
<circle cx="358.5" cy="252.6" r="1.75" fill="#fff" stroke="#5c5c5c" stroke-width="0.95"/>
<circle cx="355.2" cy="252.6" r="1.75" fill="#fff" stroke="#5c5c5c" stroke-width="0.95"/>
<line x1="370.6" y1="260.8" x2="370.6" y2="249" stroke="#333" stroke-width="1"/>
<line x1="367.1" y1="260.8" x2="374.1" y2="260.8" stroke="#333" stroke-width="1"/>
<line x1="367.1" y1="249" x2="374.1" y2="249" stroke="#333" stroke-width="1"/>
<circle cx="370.6" cy="246.1" r="2.05" fill="#8c1c2c"/>
<circle cx="364.6" cy="251" r="2.05" fill="#8c1c2c"/>
<circle cx="370.6" cy="252.3" r="2.05" fill="#8c1c2c"/>
<circle cx="376.5" cy="251" r="2.05" fill="#8c1c2c"/>
<circle cx="370.6" cy="258" r="2.05" fill="#8c1c2c"/>
<circle cx="376.5" cy="256.9" r="2.05" fill="#8c1c2c"/>
<circle cx="365.1" cy="262.1" r="2.05" fill="#8c1c2c"/>
<circle cx="376.5" cy="261.3" r="2.05" fill="#8c1c2c"/>
<rect x="435.6" y="280.52" width="12.3" height="7.28" fill="#e3e2e8"/>
<rect x="447.9" y="281.04" width="15" height="6.76" fill="#ea9a90"/>
<rect x="472.7" y="231.64" width="14.9" height="56.16" fill="#e3e2e8"/>
<rect x="487.6" y="247.24" width="15" height="40.56" fill="#ea9a90"/>
<line x1="424.4" y1="181.5" x2="424.4" y2="288.4" stroke="#3c3c3c" stroke-width="1.2"/>
<line x1="423.8" y1="287.8" x2="507.5" y2="287.8" stroke="#3c3c3c" stroke-width="1.2"/>
<line x1="421.6" y1="287.8" x2="424.4" y2="287.8" stroke="#3c3c3c" stroke-width="1"/>
<text x="418.5" y="290.1" font-size="6.4" text-anchor="end" fill="#333333" textLength="3.2" lengthAdjust="spacingAndGlyphs">0</text>
<line x1="421.6" y1="277.4" x2="424.4" y2="277.4" stroke="#3c3c3c" stroke-width="1"/>
<text x="418.5" y="279.7" font-size="6.4" text-anchor="end" fill="#333333" textLength="6.41" lengthAdjust="spacingAndGlyphs">20</text>
<line x1="421.6" y1="267" x2="424.4" y2="267" stroke="#3c3c3c" stroke-width="1"/>
<text x="418.5" y="269.3" font-size="6.4" text-anchor="end" fill="#333333" textLength="6.41" lengthAdjust="spacingAndGlyphs">40</text>
<line x1="421.6" y1="256.6" x2="424.4" y2="256.6" stroke="#3c3c3c" stroke-width="1"/>
<text x="418.5" y="258.9" font-size="6.4" text-anchor="end" fill="#333333" textLength="6.41" lengthAdjust="spacingAndGlyphs">60</text>
<line x1="421.6" y1="246.2" x2="424.4" y2="246.2" stroke="#3c3c3c" stroke-width="1"/>
<text x="418.5" y="248.5" font-size="6.4" text-anchor="end" fill="#333333" textLength="6.41" lengthAdjust="spacingAndGlyphs">80</text>
<line x1="421.6" y1="235.8" x2="424.4" y2="235.8" stroke="#3c3c3c" stroke-width="1"/>
<text x="418.5" y="238.1" font-size="6.4" text-anchor="end" fill="#333333" textLength="9.61" lengthAdjust="spacingAndGlyphs">100</text>
<line x1="421.6" y1="225.4" x2="424.4" y2="225.4" stroke="#3c3c3c" stroke-width="1"/>
<text x="418.5" y="227.7" font-size="6.4" text-anchor="end" fill="#333333" textLength="9.61" lengthAdjust="spacingAndGlyphs">120</text>
<line x1="421.6" y1="215" x2="424.4" y2="215" stroke="#3c3c3c" stroke-width="1"/>
<text x="418.5" y="217.3" font-size="6.4" text-anchor="end" fill="#333333" textLength="9.61" lengthAdjust="spacingAndGlyphs">140</text>
<line x1="421.6" y1="204.6" x2="424.4" y2="204.6" stroke="#3c3c3c" stroke-width="1"/>
<text x="418.5" y="206.9" font-size="6.4" text-anchor="end" fill="#333333" textLength="9.61" lengthAdjust="spacingAndGlyphs">160</text>
<line x1="421.6" y1="194.2" x2="424.4" y2="194.2" stroke="#3c3c3c" stroke-width="1"/>
<text x="418.5" y="196.5" font-size="6.4" text-anchor="end" fill="#333333" textLength="9.61" lengthAdjust="spacingAndGlyphs">180</text>
<line x1="421.6" y1="183.8" x2="424.4" y2="183.8" stroke="#3c3c3c" stroke-width="1"/>
<text x="418.5" y="186.1" font-size="6.4" text-anchor="end" fill="#333333" textLength="9.61" lengthAdjust="spacingAndGlyphs">200</text>
<line x1="440" y1="200.5" x2="479.5" y2="200.5" stroke="#767676" stroke-width="0.9"/>
<text x="459.75" y="200.8" font-size="7.2" text-anchor="middle" fill="#444">****</text>
<line x1="455.5" y1="193.5" x2="495.5" y2="193.5" stroke="#767676" stroke-width="0.9"/>
<text x="475.5" y="193.8" font-size="7.2" text-anchor="middle" fill="#444">****</text>
<line x1="479.5" y1="185.5" x2="495.5" y2="185.5" stroke="#767676" stroke-width="0.9"/>
<text x="487.5" y="185.8" font-size="7.2" text-anchor="middle" fill="#444">**</text>
<text x="447.5" y="300.4" font-size="7" text-anchor="middle" fill="#333333" textLength="13.8" lengthAdjust="spacingAndGlyphs">NaCl</text>
<line x1="447.5" y1="287.8" x2="447.5" y2="290.4" stroke="#3c3c3c" stroke-width="1"/>
<text x="487.5" y="300.4" font-size="7" text-anchor="middle" fill="#333333" textLength="10.5" lengthAdjust="spacingAndGlyphs">LPS</text>
<line x1="487.5" y1="287.8" x2="487.5" y2="290.4" stroke="#3c3c3c" stroke-width="1"/>
<text x="401.6" y="234.8" font-size="6.9" text-anchor="middle" fill="#333333" textLength="65.8" lengthAdjust="spacingAndGlyphs" transform="rotate(-90 401.6 234.8)">IL-1β in BALF [pg/mL]</text>
<line x1="441.3" y1="282.5" x2="441.3" y2="279.5" stroke="#333" stroke-width="1"/>
<line x1="438.8" y1="282.5" x2="443.8" y2="282.5" stroke="#333" stroke-width="1"/>
<line x1="438.8" y1="279.5" x2="443.8" y2="279.5" stroke="#333" stroke-width="1"/>
<circle cx="434" cy="282.5" r="1.75" fill="#fff" stroke="#5c5c5c" stroke-width="0.95"/>
<circle cx="438.1" cy="278.8" r="1.75" fill="#fff" stroke="#5c5c5c" stroke-width="0.95"/>
<circle cx="441.3" cy="280.4" r="1.75" fill="#fff" stroke="#5c5c5c" stroke-width="0.95"/>
<circle cx="444.3" cy="280.4" r="1.75" fill="#fff" stroke="#5c5c5c" stroke-width="0.95"/>
<circle cx="445.9" cy="280.1" r="1.75" fill="#fff" stroke="#5c5c5c" stroke-width="0.95"/>
<circle cx="449.5" cy="281.7" r="2.05" fill="#8c1c2c"/>
<circle cx="453.6" cy="278.8" r="2.05" fill="#8c1c2c"/>
<circle cx="456.9" cy="280.9" r="2.05" fill="#8c1c2c"/>
<circle cx="459.3" cy="280.4" r="2.05" fill="#8c1c2c"/>
<circle cx="462.6" cy="280.1" r="2.05" fill="#8c1c2c"/>
<line x1="479.8" y1="242.8" x2="479.8" y2="217.7" stroke="#333" stroke-width="1"/>
<line x1="476.3" y1="242.8" x2="483.3" y2="242.8" stroke="#333" stroke-width="1"/>
<line x1="476.3" y1="217.7" x2="483.3" y2="217.7" stroke="#333" stroke-width="1"/>
<circle cx="479.8" cy="209.5" r="1.75" fill="#fff" stroke="#5c5c5c" stroke-width="0.95"/>
<circle cx="479.8" cy="218.3" r="1.75" fill="#fff" stroke="#5c5c5c" stroke-width="0.95"/>
<circle cx="479.8" cy="221.2" r="1.75" fill="#fff" stroke="#5c5c5c" stroke-width="0.95"/>
<circle cx="479.8" cy="224.2" r="1.75" fill="#fff" stroke="#5c5c5c" stroke-width="0.95"/>
<circle cx="479.8" cy="227" r="1.75" fill="#fff" stroke="#5c5c5c" stroke-width="0.95"/>
<circle cx="485.8" cy="238.4" r="1.75" fill="#fff" stroke="#5c5c5c" stroke-width="0.95"/>
<circle cx="479.8" cy="240.9" r="1.75" fill="#fff" stroke="#5c5c5c" stroke-width="0.95"/>
<circle cx="473.7" cy="244.1" r="1.75" fill="#fff" stroke="#5c5c5c" stroke-width="0.95"/>
<circle cx="485.8" cy="244.1" r="1.75" fill="#fff" stroke="#5c5c5c" stroke-width="0.95"/>
<line x1="495.3" y1="253.9" x2="495.3" y2="237.6" stroke="#333" stroke-width="1"/>
<line x1="491.8" y1="253.9" x2="498.8" y2="253.9" stroke="#333" stroke-width="1"/>
<line x1="491.8" y1="237.6" x2="498.8" y2="237.6" stroke="#333" stroke-width="1"/>
<circle cx="491.7" cy="235.6" r="2.05" fill="#8c1c2c"/>
<circle cx="499.4" cy="235.6" r="2.05" fill="#8c1c2c"/>
<circle cx="491.7" cy="244.1" r="2.05" fill="#8c1c2c"/>
<circle cx="499.4" cy="241.7" r="2.05" fill="#8c1c2c"/>
<circle cx="499.4" cy="244.1" r="2.05" fill="#8c1c2c"/>
<circle cx="495.3" cy="251" r="2.05" fill="#8c1c2c"/>
<circle cx="491.7" cy="258" r="2.05" fill="#8c1c2c"/>
<circle cx="499.4" cy="255.9" r="2.05" fill="#8c1c2c"/>
<rect x="54" y="404.81" width="16.1" height="38.49" fill="#e3e2e8"/>
<rect x="70.1" y="402.85" width="16.1" height="40.45" fill="#ea9a90"/>
<rect x="95.2" y="385.37" width="15.6" height="57.93" fill="#e3e2e8"/>
<rect x="110.8" y="398.73" width="16.4" height="44.57" fill="#ea9a90"/>
<line x1="45.5" y1="333.5" x2="45.5" y2="443.9" stroke="#3c3c3c" stroke-width="1.2"/>
<line x1="44.9" y1="443.3" x2="132" y2="443.3" stroke="#3c3c3c" stroke-width="1.2"/>
<line x1="42.7" y1="443.3" x2="45.5" y2="443.3" stroke="#3c3c3c" stroke-width="1"/>
<text x="39.6" y="445.6" font-size="6.4" text-anchor="end" fill="#333333" textLength="3.2" lengthAdjust="spacingAndGlyphs">0</text>
<line x1="42.7" y1="433.48" x2="45.5" y2="433.48" stroke="#3c3c3c" stroke-width="1"/>
<text x="39.6" y="435.79" font-size="6.4" text-anchor="end" fill="#333333" textLength="6.41" lengthAdjust="spacingAndGlyphs">50</text>
<line x1="42.7" y1="423.66" x2="45.5" y2="423.66" stroke="#3c3c3c" stroke-width="1"/>
<text x="39.6" y="425.97" font-size="6.4" text-anchor="end" fill="#333333" textLength="9.61" lengthAdjust="spacingAndGlyphs">100</text>
<line x1="42.7" y1="413.85" x2="45.5" y2="413.85" stroke="#3c3c3c" stroke-width="1"/>
<text x="39.6" y="416.15" font-size="6.4" text-anchor="end" fill="#333333" textLength="9.61" lengthAdjust="spacingAndGlyphs">150</text>
<line x1="42.7" y1="404.03" x2="45.5" y2="404.03" stroke="#3c3c3c" stroke-width="1"/>
<text x="39.6" y="406.33" font-size="6.4" text-anchor="end" fill="#333333" textLength="9.61" lengthAdjust="spacingAndGlyphs">200</text>
<line x1="42.7" y1="394.21" x2="45.5" y2="394.21" stroke="#3c3c3c" stroke-width="1"/>
<text x="39.6" y="396.51" font-size="6.4" text-anchor="end" fill="#333333" textLength="9.61" lengthAdjust="spacingAndGlyphs">250</text>
<line x1="42.7" y1="384.39" x2="45.5" y2="384.39" stroke="#3c3c3c" stroke-width="1"/>
<text x="39.6" y="386.69" font-size="6.4" text-anchor="end" fill="#333333" textLength="9.61" lengthAdjust="spacingAndGlyphs">300</text>
<line x1="42.7" y1="374.57" x2="45.5" y2="374.57" stroke="#3c3c3c" stroke-width="1"/>
<text x="39.6" y="376.88" font-size="6.4" text-anchor="end" fill="#333333" textLength="9.61" lengthAdjust="spacingAndGlyphs">350</text>
<line x1="42.7" y1="364.75" x2="45.5" y2="364.75" stroke="#3c3c3c" stroke-width="1"/>
<text x="39.6" y="367.06" font-size="6.4" text-anchor="end" fill="#333333" textLength="9.61" lengthAdjust="spacingAndGlyphs">400</text>
<line x1="42.7" y1="354.94" x2="45.5" y2="354.94" stroke="#3c3c3c" stroke-width="1"/>
<text x="39.6" y="357.24" font-size="6.4" text-anchor="end" fill="#333333" textLength="9.61" lengthAdjust="spacingAndGlyphs">450</text>
<line x1="42.7" y1="345.12" x2="45.5" y2="345.12" stroke="#3c3c3c" stroke-width="1"/>
<text x="39.6" y="347.42" font-size="6.4" text-anchor="end" fill="#333333" textLength="9.61" lengthAdjust="spacingAndGlyphs">500</text>
<line x1="42.7" y1="335.3" x2="45.5" y2="335.3" stroke="#3c3c3c" stroke-width="1"/>
<text x="39.6" y="337.6" font-size="6.4" text-anchor="end" fill="#333333" textLength="9.61" lengthAdjust="spacingAndGlyphs">550</text>
<line x1="62.5" y1="348.5" x2="101" y2="348.5" stroke="#767676" stroke-width="0.9"/>
<text x="81.75" y="348.8" font-size="7.2" text-anchor="middle" fill="#444">*</text>
<line x1="105" y1="348.5" x2="119.8" y2="348.5" stroke="#767676" stroke-width="0.9"/>
<text x="112.4" y="348.8" font-size="7.2" text-anchor="middle" fill="#444">*</text>
<text x="70" y="455.6" font-size="7" text-anchor="middle" fill="#333333" textLength="13.8" lengthAdjust="spacingAndGlyphs">NaCl</text>
<line x1="70" y1="443.3" x2="70" y2="445.9" stroke="#3c3c3c" stroke-width="1"/>
<text x="111" y="455.6" font-size="7" text-anchor="middle" fill="#333333" textLength="10.5" lengthAdjust="spacingAndGlyphs">LPS</text>
<line x1="111" y1="443.3" x2="111" y2="445.9" stroke="#3c3c3c" stroke-width="1"/>
<text x="22.6" y="389.8" font-size="6.9" text-anchor="middle" fill="#333333" textLength="90.2" lengthAdjust="spacing" transform="rotate(-90 22.6 389.8)">Total protein in BALF [µg/mL]</text>
<circle cx="55.4" cy="405" r="1.75" fill="#fff" stroke="#5c5c5c" stroke-width="0.95"/>
<circle cx="59.7" cy="401.6" r="1.75" fill="#fff" stroke="#5c5c5c" stroke-width="0.95"/>
<circle cx="62.3" cy="404" r="1.75" fill="#fff" stroke="#5c5c5c" stroke-width="0.95"/>
<circle cx="64" cy="402.8" r="1.75" fill="#fff" stroke="#5c5c5c" stroke-width="0.95"/>
<circle cx="65.8" cy="405" r="1.75" fill="#fff" stroke="#5c5c5c" stroke-width="0.95"/>
<circle cx="68.4" cy="403.3" r="1.75" fill="#fff" stroke="#5c5c5c" stroke-width="0.95"/>
<line x1="77.9" y1="408.8" x2="77.9" y2="395.3" stroke="#333" stroke-width="1"/>
<line x1="74.9" y1="408.8" x2="80.9" y2="408.8" stroke="#333" stroke-width="1"/>
<line x1="74.9" y1="395.3" x2="80.9" y2="395.3" stroke="#333" stroke-width="1"/>
<circle cx="77.9" cy="394.1" r="2.05" fill="#8c1c2c"/>
<circle cx="77.9" cy="400.2" r="2.05" fill="#8c1c2c"/>
<circle cx="74.8" cy="409.7" r="2.05" fill="#8c1c2c"/>
<circle cx="81.7" cy="407.5" r="2.05" fill="#8c1c2c"/>
<line x1="103" y1="400.2" x2="103" y2="368.2" stroke="#333" stroke-width="1"/>
<line x1="99.5" y1="400.2" x2="106.5" y2="400.2" stroke="#333" stroke-width="1"/>
<line x1="99.5" y1="368.2" x2="106.5" y2="368.2" stroke="#333" stroke-width="1"/>
<circle cx="103" cy="358.3" r="1.75" fill="#fff" stroke="#5c5c5c" stroke-width="0.95"/>
<circle cx="103" cy="367.3" r="1.75" fill="#fff" stroke="#5c5c5c" stroke-width="0.95"/>
<circle cx="96.9" cy="385.5" r="1.75" fill="#fff" stroke="#5c5c5c" stroke-width="0.95"/>
<circle cx="103" cy="377.7" r="1.75" fill="#fff" stroke="#5c5c5c" stroke-width="0.95"/>
<circle cx="103" cy="388.4" r="1.75" fill="#fff" stroke="#5c5c5c" stroke-width="0.95"/>
<circle cx="96.9" cy="402.3" r="1.75" fill="#fff" stroke="#5c5c5c" stroke-width="0.95"/>
<circle cx="103" cy="399.3" r="1.75" fill="#fff" stroke="#5c5c5c" stroke-width="0.95"/>
<circle cx="109.4" cy="399.8" r="1.75" fill="#fff" stroke="#5c5c5c" stroke-width="0.95"/>
<line x1="119.1" y1="402.8" x2="119.1" y2="394.7" stroke="#333" stroke-width="1"/>
<line x1="116.1" y1="402.8" x2="122.1" y2="402.8" stroke="#333" stroke-width="1"/>
<line x1="116.1" y1="394.7" x2="122.1" y2="394.7" stroke="#333" stroke-width="1"/>
<circle cx="121.2" cy="388.9" r="2.05" fill="#8c1c2c"/>
<circle cx="116.8" cy="391.9" r="2.05" fill="#8c1c2c"/>
<circle cx="121.2" cy="394.7" r="2.05" fill="#8c1c2c"/>
<circle cx="112.8" cy="398.5" r="2.05" fill="#8c1c2c"/>
<circle cx="116.8" cy="401.1" r="2.05" fill="#8c1c2c"/>
<circle cx="121.2" cy="400.5" r="2.05" fill="#8c1c2c"/>
<circle cx="125.5" cy="401.1" r="2.05" fill="#8c1c2c"/>
<circle cx="119.1" cy="405" r="2.05" fill="#8c1c2c"/>
<line x1="174.1" y1="346.5" x2="174.1" y2="444.1" stroke="#3c3c3c" stroke-width="1.2"/>
<line x1="173.5" y1="443.5" x2="290.6" y2="443.5" stroke="#3c3c3c" stroke-width="1.2"/>
<line x1="171.5" y1="443.5" x2="174.1" y2="443.5" stroke="#3c3c3c" stroke-width="1"/>
<text x="168.2" y="445.8" font-size="6.4" text-anchor="end" fill="#333333" textLength="3.2" lengthAdjust="spacingAndGlyphs">0</text>
<line x1="171.5" y1="424.42" x2="174.1" y2="424.42" stroke="#3c3c3c" stroke-width="1"/>
<text x="168.2" y="426.72" font-size="6.4" text-anchor="end" fill="#333333" textLength="9.61" lengthAdjust="spacingAndGlyphs">100</text>
<line x1="171.5" y1="405.34" x2="174.1" y2="405.34" stroke="#3c3c3c" stroke-width="1"/>
<text x="168.2" y="407.64" font-size="6.4" text-anchor="end" fill="#333333" textLength="9.61" lengthAdjust="spacingAndGlyphs">200</text>
<line x1="171.5" y1="386.26" x2="174.1" y2="386.26" stroke="#3c3c3c" stroke-width="1"/>
<text x="168.2" y="388.56" font-size="6.4" text-anchor="end" fill="#333333" textLength="9.61" lengthAdjust="spacingAndGlyphs">300</text>
<line x1="171.5" y1="367.18" x2="174.1" y2="367.18" stroke="#3c3c3c" stroke-width="1"/>
<text x="168.2" y="369.48" font-size="6.4" text-anchor="end" fill="#333333" textLength="9.61" lengthAdjust="spacingAndGlyphs">400</text>
<line x1="171.5" y1="348.1" x2="174.1" y2="348.1" stroke="#3c3c3c" stroke-width="1"/>
<text x="168.2" y="350.4" font-size="6.4" text-anchor="end" fill="#333333" textLength="9.61" lengthAdjust="spacingAndGlyphs">500</text>
<line x1="174.1" y1="443.5" x2="174.1" y2="446.1" stroke="#3c3c3c" stroke-width="1"/>
<text x="174.1" y="454.2" font-size="6.4" text-anchor="middle" fill="#333333" textLength="3.2" lengthAdjust="spacingAndGlyphs">0</text>
<line x1="192.96" y1="443.5" x2="192.96" y2="446.1" stroke="#3c3c3c" stroke-width="1"/>
<text x="192.96" y="454.2" font-size="6.4" text-anchor="middle" fill="#333333" textLength="6.41" lengthAdjust="spacingAndGlyphs">10</text>
<line x1="211.82" y1="443.5" x2="211.82" y2="446.1" stroke="#3c3c3c" stroke-width="1"/>
<text x="211.82" y="454.2" font-size="6.4" text-anchor="middle" fill="#333333" textLength="6.41" lengthAdjust="spacingAndGlyphs">20</text>
<line x1="230.68" y1="443.5" x2="230.68" y2="446.1" stroke="#3c3c3c" stroke-width="1"/>
<text x="230.68" y="454.2" font-size="6.4" text-anchor="middle" fill="#333333" textLength="6.41" lengthAdjust="spacingAndGlyphs">30</text>
<line x1="249.54" y1="443.5" x2="249.54" y2="446.1" stroke="#3c3c3c" stroke-width="1"/>
<text x="249.54" y="454.2" font-size="6.4" text-anchor="middle" fill="#333333" textLength="6.41" lengthAdjust="spacingAndGlyphs">40</text>
<line x1="268.4" y1="443.5" x2="268.4" y2="446.1" stroke="#3c3c3c" stroke-width="1"/>
<text x="268.4" y="454.2" font-size="6.4" text-anchor="middle" fill="#333333" textLength="6.41" lengthAdjust="spacingAndGlyphs">50</text>
<line x1="287.26" y1="443.5" x2="287.26" y2="446.1" stroke="#3c3c3c" stroke-width="1"/>
<text x="287.26" y="454.2" font-size="6.4" text-anchor="middle" fill="#333333" textLength="6.41" lengthAdjust="spacingAndGlyphs">60</text>
<text x="151.1" y="394.7" font-size="6.9" text-anchor="middle" fill="#333333" textLength="47.8" lengthAdjust="spacing" transform="rotate(-90 151.1 394.7)">Protein [µg/mL]</text>
<text x="232.7" y="470" font-size="6.4" text-anchor="middle" fill="#333333" textLength="88.5" lengthAdjust="spacing">Neutrophil count [×10<tspan dy="-2.4" font-size="4.6">4</tspan><tspan dy="2.4"> mL</tspan><tspan dy="-2.4" font-size="4.6">−1</tspan><tspan dy="2.4">]</tspan></text>
<text x="180" y="352" font-size="6.4" text-anchor="start" fill="#333333" textLength="28.5" lengthAdjust="spacingAndGlyphs"><tspan font-style="italic">r</tspan> = 0.7790</text>
<text x="180" y="362.2" font-size="6.4" text-anchor="start" fill="#333333" textLength="27" lengthAdjust="spacingAndGlyphs">P = .0004</text>
<circle cx="210" cy="401.1" r="1.9" fill="#c4c4c4"/>
<circle cx="221.6" cy="403.5" r="1.9" fill="#c4c4c4"/>
<circle cx="226.2" cy="400.3" r="1.9" fill="#c4c4c4"/>
<circle cx="235.6" cy="379.8" r="1.9" fill="#c4c4c4"/>
<circle cx="244.5" cy="369.6" r="1.9" fill="#c4c4c4"/>
<circle cx="249.9" cy="387.4" r="1.9" fill="#c4c4c4"/>
<circle cx="257.9" cy="390" r="1.9" fill="#c4c4c4"/>
<circle cx="278.7" cy="361.5" r="1.9" fill="#c4c4c4"/>
<circle cx="185.2" cy="400" r="2.1" fill="#b5122e"/>
<circle cx="188.5" cy="402.2" r="2.1" fill="#b5122e"/>
<circle cx="187.9" cy="406.2" r="2.1" fill="#b5122e"/>
<circle cx="197.4" cy="390.9" r="2.1" fill="#b5122e"/>
<circle cx="199.8" cy="402.7" r="2.1" fill="#b5122e"/>
<circle cx="204.1" cy="401.6" r="2.1" fill="#b5122e"/>
<circle cx="212.2" cy="393.8" r="2.1" fill="#b5122e"/>
<circle cx="232.1" cy="395.7" r="2.1" fill="#b5122e"/>
<rect x="433.5" y="439.64" width="15" height="3.76" fill="#e3e2e8"/>
<rect x="449.2" y="435.87" width="15" height="7.53" fill="#ea9a90"/>
<rect x="473.2" y="398.23" width="14.7" height="45.17" fill="#e3e2e8"/>
<rect x="487.9" y="414.04" width="16.7" height="29.36" fill="#ea9a90"/>
<line x1="424.4" y1="335" x2="424.4" y2="444" stroke="#3c3c3c" stroke-width="1.2"/>
<line x1="423.8" y1="443.4" x2="504.6" y2="443.4" stroke="#3c3c3c" stroke-width="1.2"/>
<line x1="421.6" y1="443.4" x2="424.4" y2="443.4" stroke="#3c3c3c" stroke-width="1"/>
<text x="418.5" y="445.7" font-size="6.4" text-anchor="end" fill="#333333" textLength="3.2" lengthAdjust="spacingAndGlyphs">0</text>
<line x1="421.6" y1="428.34" x2="424.4" y2="428.34" stroke="#3c3c3c" stroke-width="1"/>
<text x="418.5" y="430.65" font-size="6.4" text-anchor="end" fill="#333333" textLength="6.41" lengthAdjust="spacingAndGlyphs">10</text>
<line x1="421.6" y1="413.29" x2="424.4" y2="413.29" stroke="#3c3c3c" stroke-width="1"/>
<text x="418.5" y="415.59" font-size="6.4" text-anchor="end" fill="#333333" textLength="6.41" lengthAdjust="spacingAndGlyphs">20</text>
<line x1="421.6" y1="398.23" x2="424.4" y2="398.23" stroke="#3c3c3c" stroke-width="1"/>
<text x="418.5" y="400.53" font-size="6.4" text-anchor="end" fill="#333333" textLength="6.41" lengthAdjust="spacingAndGlyphs">30</text>
<line x1="421.6" y1="383.17" x2="424.4" y2="383.17" stroke="#3c3c3c" stroke-width="1"/>
<text x="418.5" y="385.48" font-size="6.4" text-anchor="end" fill="#333333" textLength="6.41" lengthAdjust="spacingAndGlyphs">40</text>
<line x1="421.6" y1="368.11" x2="424.4" y2="368.11" stroke="#3c3c3c" stroke-width="1"/>
<text x="418.5" y="370.42" font-size="6.4" text-anchor="end" fill="#333333" textLength="6.41" lengthAdjust="spacingAndGlyphs">50</text>
<line x1="421.6" y1="353.06" x2="424.4" y2="353.06" stroke="#3c3c3c" stroke-width="1"/>
<text x="418.5" y="355.36" font-size="6.4" text-anchor="end" fill="#333333" textLength="6.41" lengthAdjust="spacingAndGlyphs">60</text>
<line x1="421.6" y1="338" x2="424.4" y2="338" stroke="#3c3c3c" stroke-width="1"/>
<text x="418.5" y="340.3" font-size="6.4" text-anchor="end" fill="#333333" textLength="6.41" lengthAdjust="spacingAndGlyphs">70</text>
<line x1="440.3" y1="353.5" x2="479.7" y2="353.5" stroke="#767676" stroke-width="0.9"/>
<text x="460" y="353.8" font-size="7.2" text-anchor="middle" fill="#444">***</text>
<line x1="456" y1="346.5" x2="495.8" y2="346.5" stroke="#767676" stroke-width="0.9"/>
<text x="475.9" y="346.8" font-size="7.2" text-anchor="middle" fill="#444">*</text>
<line x1="479.7" y1="338.5" x2="495.8" y2="338.5" stroke="#767676" stroke-width="0.9"/>
<text x="487.75" y="338.8" font-size="7.2" text-anchor="middle" fill="#444">*</text>
<text x="448.5" y="456.4" font-size="7" text-anchor="middle" fill="#333333" textLength="13.8" lengthAdjust="spacingAndGlyphs">NaCl</text>
<line x1="448.5" y1="443.4" x2="448.5" y2="446" stroke="#3c3c3c" stroke-width="1"/>
<text x="488.9" y="456.4" font-size="7" text-anchor="middle" fill="#333333" textLength="10.5" lengthAdjust="spacingAndGlyphs">LPS</text>
<line x1="488.9" y1="443.4" x2="488.9" y2="446" stroke="#3c3c3c" stroke-width="1"/>
<text x="406.8" y="388.3" font-size="6.9" text-anchor="middle" fill="#333333" textLength="61.5" lengthAdjust="spacingAndGlyphs" transform="rotate(-90 406.8 388.3)">µg EBD/g lung tissue</text>
<line x1="440.5" y1="439.6" x2="440.5" y2="435.3" stroke="#333" stroke-width="1"/>
<line x1="438" y1="439.6" x2="443" y2="439.6" stroke="#333" stroke-width="1"/>
<line x1="438" y1="435.3" x2="443" y2="435.3" stroke="#333" stroke-width="1"/>
<circle cx="440.5" cy="434.7" r="1.75" fill="#fff" stroke="#5c5c5c" stroke-width="0.95"/>
<circle cx="436.8" cy="439.9" r="1.75" fill="#fff" stroke="#5c5c5c" stroke-width="0.95"/>
<circle cx="444.3" cy="439.1" r="1.75" fill="#fff" stroke="#5c5c5c" stroke-width="0.95"/>
<line x1="456.4" y1="439.6" x2="456.4" y2="431.4" stroke="#333" stroke-width="1"/>
<line x1="453.4" y1="439.6" x2="459.4" y2="439.6" stroke="#333" stroke-width="1"/>
<line x1="453.4" y1="431.4" x2="459.4" y2="431.4" stroke="#333" stroke-width="1"/>
<circle cx="450.3" cy="432" r="2.05" fill="#8c1c2c"/>
<circle cx="462.9" cy="432.5" r="2.05" fill="#8c1c2c"/>
<circle cx="456.4" cy="435.8" r="2.05" fill="#8c1c2c"/>
<circle cx="456.4" cy="439.6" r="2.05" fill="#8c1c2c"/>
<line x1="480.9" y1="417.3" x2="480.9" y2="378.6" stroke="#333" stroke-width="1"/>
<line x1="477.4" y1="417.3" x2="484.4" y2="417.3" stroke="#333" stroke-width="1"/>
<line x1="477.4" y1="378.6" x2="484.4" y2="378.6" stroke="#333" stroke-width="1"/>
<circle cx="480.9" cy="357.8" r="1.75" fill="#fff" stroke="#5c5c5c" stroke-width="0.95"/>
<circle cx="480.9" cy="389.2" r="1.75" fill="#fff" stroke="#5c5c5c" stroke-width="0.95"/>
<circle cx="480.9" cy="399.9" r="1.75" fill="#fff" stroke="#5c5c5c" stroke-width="0.95"/>
<circle cx="480.9" cy="403.1" r="1.75" fill="#fff" stroke="#5c5c5c" stroke-width="0.95"/>
<circle cx="477" cy="408.5" r="1.75" fill="#fff" stroke="#5c5c5c" stroke-width="0.95"/>
<circle cx="484.2" cy="410.8" r="1.75" fill="#fff" stroke="#5c5c5c" stroke-width="0.95"/>
<circle cx="480.9" cy="414.6" r="1.75" fill="#fff" stroke="#5c5c5c" stroke-width="0.95"/>
<line x1="496.6" y1="421.6" x2="496.6" y2="406.4" stroke="#333" stroke-width="1"/>
<line x1="493.1" y1="421.6" x2="500.1" y2="421.6" stroke="#333" stroke-width="1"/>
<line x1="493.1" y1="406.4" x2="500.1" y2="406.4" stroke="#333" stroke-width="1"/>
<circle cx="496.6" cy="405.9" r="2.05" fill="#8c1c2c"/>
<circle cx="490.4" cy="409.7" r="2.05" fill="#8c1c2c"/>
<circle cx="496.6" cy="410.2" r="2.05" fill="#8c1c2c"/>
<circle cx="503.1" cy="409.7" r="2.05" fill="#8c1c2c"/>
<circle cx="496.6" cy="413.7" r="2.05" fill="#8c1c2c"/>
<circle cx="493.6" cy="425.2" r="2.05" fill="#8c1c2c"/>
<circle cx="499.9" cy="422.2" r="2.05" fill="#8c1c2c"/>
<rect x="392.3" y="583.66" width="14.9" height="29.74" fill="#e3e2e8"/>
<rect x="407.2" y="581.12" width="16.8" height="32.28" fill="#ea9a90"/>
<rect x="433.1" y="544.58" width="15.6" height="68.82" fill="#e3e2e8"/>
<rect x="448.7" y="564.55" width="15.6" height="48.85" fill="#ea9a90"/>
<line x1="383.85" y1="504.5" x2="383.85" y2="614" stroke="#3c3c3c" stroke-width="1.2"/>
<line x1="383.25" y1="613.4" x2="472.9" y2="613.4" stroke="#3c3c3c" stroke-width="1.2"/>
<line x1="381.05" y1="613.4" x2="383.85" y2="613.4" stroke="#3c3c3c" stroke-width="1"/>
<text x="377.95" y="615.7" font-size="6.4" text-anchor="end" fill="#333333" textLength="8.01" lengthAdjust="spacingAndGlyphs">0.0</text>
<line x1="381.05" y1="592.16" x2="383.85" y2="592.16" stroke="#3c3c3c" stroke-width="1"/>
<text x="377.95" y="594.46" font-size="6.4" text-anchor="end" fill="#333333" textLength="8.01" lengthAdjust="spacingAndGlyphs">0.5</text>
<line x1="381.05" y1="570.92" x2="383.85" y2="570.92" stroke="#3c3c3c" stroke-width="1"/>
<text x="377.95" y="573.22" font-size="6.4" text-anchor="end" fill="#333333" textLength="8.01" lengthAdjust="spacingAndGlyphs">1.0</text>
<line x1="381.05" y1="549.68" x2="383.85" y2="549.68" stroke="#3c3c3c" stroke-width="1"/>
<text x="377.95" y="551.98" font-size="6.4" text-anchor="end" fill="#333333" textLength="8.01" lengthAdjust="spacingAndGlyphs">1.5</text>
<line x1="381.05" y1="528.44" x2="383.85" y2="528.44" stroke="#3c3c3c" stroke-width="1"/>
<text x="377.95" y="530.74" font-size="6.4" text-anchor="end" fill="#333333" textLength="8.01" lengthAdjust="spacingAndGlyphs">2.0</text>
<line x1="381.05" y1="507.2" x2="383.85" y2="507.2" stroke="#3c3c3c" stroke-width="1"/>
<text x="377.95" y="509.5" font-size="6.4" text-anchor="end" fill="#333333" textLength="8.01" lengthAdjust="spacingAndGlyphs">2.5</text>
<line x1="399.5" y1="523.5" x2="441" y2="523.5" stroke="#767676" stroke-width="0.9"/>
<text x="420.25" y="523.8" font-size="7.2" text-anchor="middle" fill="#444">****</text>
<line x1="415.7" y1="517.5" x2="456" y2="517.5" stroke="#767676" stroke-width="0.9"/>
<text x="435.85" y="517.8" font-size="7.2" text-anchor="middle" fill="#444">*</text>
<line x1="441" y1="509.5" x2="456" y2="509.5" stroke="#767676" stroke-width="0.9"/>
<text x="448.5" y="509.8" font-size="7.2" text-anchor="middle" fill="#444">*</text>
<text x="408" y="625.2" font-size="7" text-anchor="middle" fill="#333333" textLength="13.8" lengthAdjust="spacingAndGlyphs">NaCl</text>
<line x1="408" y1="613.4" x2="408" y2="616" stroke="#3c3c3c" stroke-width="1"/>
<text x="448.7" y="625.2" font-size="7" text-anchor="middle" fill="#333333" textLength="10.5" lengthAdjust="spacingAndGlyphs">LPS</text>
<line x1="448.7" y1="613.4" x2="448.7" y2="616" stroke="#3c3c3c" stroke-width="1"/>
<text x="363.1" y="558.5" font-size="6.9" text-anchor="middle" fill="#333333" textLength="49.5" lengthAdjust="spacingAndGlyphs" transform="rotate(-90 363.1 558.5)">Lactate [mmol/L]</text>
<line x1="400.2" y1="589.7" x2="400.2" y2="574.7" stroke="#333" stroke-width="1"/>
<line x1="397.2" y1="589.7" x2="403.2" y2="589.7" stroke="#333" stroke-width="1"/>
<line x1="397.2" y1="574.7" x2="403.2" y2="574.7" stroke="#333" stroke-width="1"/>
<circle cx="396.2" cy="575" r="1.75" fill="#fff" stroke="#5c5c5c" stroke-width="0.95"/>
<circle cx="404" cy="575" r="1.75" fill="#fff" stroke="#5c5c5c" stroke-width="0.95"/>
<circle cx="396.2" cy="585.4" r="1.75" fill="#fff" stroke="#5c5c5c" stroke-width="0.95"/>
<circle cx="404" cy="582.8" r="1.75" fill="#fff" stroke="#5c5c5c" stroke-width="0.95"/>
<circle cx="404" cy="586.8" r="1.75" fill="#fff" stroke="#5c5c5c" stroke-width="0.95"/>
<circle cx="400.2" cy="590.9" r="1.75" fill="#fff" stroke="#5c5c5c" stroke-width="0.95"/>
<line x1="414.4" y1="581.9" x2="414.4" y2="576.4" stroke="#333" stroke-width="1"/>
<line x1="411.4" y1="581.9" x2="417.4" y2="581.9" stroke="#333" stroke-width="1"/>
<line x1="411.4" y1="576.4" x2="417.4" y2="576.4" stroke="#333" stroke-width="1"/>
<circle cx="410.1" cy="576.7" r="2.05" fill="#8c1c2c"/>
<circle cx="414.4" cy="578.5" r="2.05" fill="#8c1c2c"/>
<circle cx="410.1" cy="582.8" r="2.05" fill="#8c1c2c"/>
<circle cx="414.4" cy="581.9" r="2.05" fill="#8c1c2c"/>
<circle cx="417.9" cy="582.3" r="2.05" fill="#8c1c2c"/>
<circle cx="421.7" cy="581.9" r="2.05" fill="#8c1c2c"/>
<line x1="440.9" y1="558.6" x2="440.9" y2="528.9" stroke="#333" stroke-width="1"/>
<line x1="437.4" y1="558.6" x2="444.4" y2="558.6" stroke="#333" stroke-width="1"/>
<line x1="437.4" y1="528.9" x2="444.4" y2="528.9" stroke="#333" stroke-width="1"/>
<circle cx="440.9" cy="527.9" r="1.75" fill="#fff" stroke="#5c5c5c" stroke-width="0.95"/>
<circle cx="440.9" cy="540.7" r="1.75" fill="#fff" stroke="#5c5c5c" stroke-width="0.95"/>
<circle cx="440.9" cy="550.8" r="1.75" fill="#fff" stroke="#5c5c5c" stroke-width="0.95"/>
<circle cx="440.9" cy="562.6" r="1.75" fill="#fff" stroke="#5c5c5c" stroke-width="0.95"/>
<line x1="456.3" y1="578.8" x2="456.3" y2="550.4" stroke="#333" stroke-width="1"/>
<line x1="452.8" y1="578.8" x2="459.8" y2="578.8" stroke="#333" stroke-width="1"/>
<line x1="452.8" y1="550.4" x2="459.8" y2="550.4" stroke="#333" stroke-width="1"/>
<circle cx="456.3" cy="546.4" r="2.05" fill="#8c1c2c"/>
<circle cx="456.3" cy="554.2" r="2.05" fill="#8c1c2c"/>
<circle cx="452.8" cy="569.8" r="2.05" fill="#8c1c2c"/>
<circle cx="459.8" cy="570.2" r="2.05" fill="#8c1c2c"/>
<circle cx="456.3" cy="578.8" r="2.05" fill="#8c1c2c"/>
<line x1="80.4" y1="504.1" x2="80.4" y2="556.2" stroke="#3c3c3c" stroke-width="1.2"/>
<line x1="77.8" y1="505.5" x2="80.4" y2="505.5" stroke="#3c3c3c" stroke-width="1"/>
<text x="74.5" y="507.8" font-size="6.4" text-anchor="end" fill="#333333" textLength="3.2" lengthAdjust="spacingAndGlyphs">5</text>
<line x1="77.8" y1="518.7" x2="80.4" y2="518.7" stroke="#3c3c3c" stroke-width="1"/>
<text x="74.5" y="521" font-size="6.4" text-anchor="end" fill="#333333" textLength="3.2" lengthAdjust="spacingAndGlyphs">4</text>
<line x1="77.8" y1="531.1" x2="80.4" y2="531.1" stroke="#3c3c3c" stroke-width="1"/>
<text x="74.5" y="533.4" font-size="6.4" text-anchor="end" fill="#333333" textLength="3.2" lengthAdjust="spacingAndGlyphs">3</text>
<line x1="77.8" y1="543.6" x2="80.4" y2="543.6" stroke="#3c3c3c" stroke-width="1"/>
<text x="74.5" y="545.9" font-size="6.4" text-anchor="end" fill="#333333" textLength="3.2" lengthAdjust="spacingAndGlyphs">2</text>
<line x1="77.8" y1="556" x2="80.4" y2="556" stroke="#3c3c3c" stroke-width="1"/>
<text x="74.5" y="558.3" font-size="6.4" text-anchor="end" fill="#333333" textLength="3.2" lengthAdjust="spacingAndGlyphs">1</text>
<line x1="80.4" y1="563.4" x2="80.4" y2="614" stroke="#3c3c3c" stroke-width="1.2"/>
<line x1="77.8" y1="563.8" x2="80.4" y2="563.8" stroke="#3c3c3c" stroke-width="1"/>
<text x="74.5" y="566.1" font-size="6.4" text-anchor="end" fill="#333333" textLength="8.01" lengthAdjust="spacingAndGlyphs">0.3</text>
<line x1="77.8" y1="580.3" x2="80.4" y2="580.3" stroke="#3c3c3c" stroke-width="1"/>
<text x="74.5" y="582.6" font-size="6.4" text-anchor="end" fill="#333333" textLength="8.01" lengthAdjust="spacingAndGlyphs">0.2</text>
<line x1="77.8" y1="596.9" x2="80.4" y2="596.9" stroke="#3c3c3c" stroke-width="1"/>
<text x="74.5" y="599.2" font-size="6.4" text-anchor="end" fill="#333333" textLength="8.01" lengthAdjust="spacingAndGlyphs">0.1</text>
<line x1="77.8" y1="613.4" x2="80.4" y2="613.4" stroke="#3c3c3c" stroke-width="1"/>
<text x="74.5" y="615.7" font-size="6.4" text-anchor="end" fill="#333333" textLength="8.01" lengthAdjust="spacingAndGlyphs">0.0</text>
<line x1="79.8" y1="613.6" x2="188.5" y2="613.6" stroke="#3c3c3c" stroke-width="1.2"/>
<rect x="127.1" y="581" width="14.1" height="32.6" fill="#e3e2e8"/>
<rect x="141.2" y="589" width="13.8" height="24.6" fill="#ea9a90"/>
<line x1="158.7" y1="506.5" x2="158.7" y2="612.5" stroke="#555" stroke-width="0.9" stroke-dasharray="1.2 1.4"/>
<path d="M162.5 613.6 V563.2 M162.5 557 V527.3 H176.7 V557 M176.7 563.2 V613.6" fill="none" stroke="#333" stroke-width="1"/>
<line x1="169.4" y1="539.4" x2="169.4" y2="515" stroke="#333" stroke-width="1"/>
<line x1="166.4" y1="539.4" x2="172.4" y2="539.4" stroke="#333" stroke-width="1"/>
<line x1="166.4" y1="515" x2="172.4" y2="515" stroke="#333" stroke-width="1"/>
<circle cx="164.6" cy="518.8" r="1.75" fill="#fff" stroke="#5c5c5c" stroke-width="0.95"/>
<circle cx="174.6" cy="522.1" r="1.75" fill="#fff" stroke="#5c5c5c" stroke-width="0.95"/>
<circle cx="169.4" cy="540.8" r="1.75" fill="#fff" stroke="#5c5c5c" stroke-width="0.95"/>
<text x="169.8" y="621.8" font-size="6.6" text-anchor="middle" fill="#333333" textLength="8.5" lengthAdjust="spacing">TP</text>
<line x1="109.2" y1="520.5" x2="149.6" y2="520.5" stroke="#767676" stroke-width="0.9"/>
<text x="129.4" y="520.8" font-size="7.2" text-anchor="middle" fill="#444">**</text>
<line x1="93.1" y1="528.5" x2="134.2" y2="528.5" stroke="#767676" stroke-width="0.9"/>
<text x="113.65" y="528.8" font-size="7.2" text-anchor="middle" fill="#444">***</text>
<line x1="91.1" y1="626.5" x2="120" y2="626.5" stroke="#333" stroke-width="0.9"/>
<line x1="126.6" y1="626.5" x2="177.2" y2="626.5" stroke="#333" stroke-width="0.9"/>
<text x="105.9" y="634.9" font-size="7" text-anchor="middle" fill="#333333" textLength="13.8" lengthAdjust="spacingAndGlyphs">NaCl</text>
<text x="152" y="634.9" font-size="7" text-anchor="middle" fill="#333333" textLength="10.5" lengthAdjust="spacingAndGlyphs">LPS</text>
<text x="60.3" y="558.1" font-size="6.9" text-anchor="middle" fill="#333333" textLength="104" lengthAdjust="spacingAndGlyphs" transform="rotate(-90 60.3 558.1)">Relative Hb-content in BALF (OD<tspan dy="1.5" font-size="4.2">405</tspan><tspan dy="-1.5">)</tspan></text>
<circle cx="93.1" cy="610.6" r="1.75" fill="#fff" stroke="#5c5c5c" stroke-width="0.95"/>
<circle cx="96.9" cy="607.7" r="1.75" fill="#fff" stroke="#5c5c5c" stroke-width="0.95"/>
<circle cx="100.2" cy="608.1" r="1.75" fill="#fff" stroke="#5c5c5c" stroke-width="0.95"/>
<circle cx="103.5" cy="608.7" r="1.75" fill="#fff" stroke="#5c5c5c" stroke-width="0.95"/>
<line x1="111.9" y1="611" x2="111.9" y2="605.4" stroke="#333" stroke-width="1"/>
<line x1="109.3" y1="611" x2="114.5" y2="611" stroke="#333" stroke-width="1"/>
<line x1="109.3" y1="605.4" x2="114.5" y2="605.4" stroke="#333" stroke-width="1"/>
<circle cx="106.9" cy="612" r="2.05" fill="#8c1c2c"/>
<circle cx="110.4" cy="611.4" r="2.05" fill="#8c1c2c"/>
<circle cx="113.7" cy="611" r="2.05" fill="#8c1c2c"/>
<circle cx="118.1" cy="610.4" r="2.05" fill="#8c1c2c"/>
<circle cx="111.9" cy="605" r="2.05" fill="#8c1c2c"/>
<line x1="133.9" y1="590.1" x2="133.9" y2="571.2" stroke="#333" stroke-width="1"/>
<line x1="130.4" y1="590.1" x2="137.4" y2="590.1" stroke="#333" stroke-width="1"/>
<line x1="130.4" y1="571.2" x2="137.4" y2="571.2" stroke="#333" stroke-width="1"/>
<circle cx="133.9" cy="564.4" r="1.75" fill="#fff" stroke="#5c5c5c" stroke-width="0.95"/>
<circle cx="128.7" cy="576.6" r="1.75" fill="#fff" stroke="#5c5c5c" stroke-width="0.95"/>
<circle cx="139" cy="572.9" r="1.75" fill="#fff" stroke="#5c5c5c" stroke-width="0.95"/>
<circle cx="139" cy="576.6" r="1.75" fill="#fff" stroke="#5c5c5c" stroke-width="0.95"/>
<circle cx="128.7" cy="585.7" r="1.75" fill="#fff" stroke="#5c5c5c" stroke-width="0.95"/>
<circle cx="133.9" cy="587" r="1.75" fill="#fff" stroke="#5c5c5c" stroke-width="0.95"/>
<circle cx="139" cy="588.8" r="1.75" fill="#fff" stroke="#5c5c5c" stroke-width="0.95"/>
<circle cx="128.7" cy="592.7" r="1.75" fill="#fff" stroke="#5c5c5c" stroke-width="0.95"/>
<line x1="147.9" y1="598.3" x2="147.9" y2="578.3" stroke="#333" stroke-width="1"/>
<line x1="144.4" y1="598.3" x2="151.4" y2="598.3" stroke="#333" stroke-width="1"/>
<line x1="144.4" y1="578.3" x2="151.4" y2="578.3" stroke="#333" stroke-width="1"/>
<circle cx="147.9" cy="570.9" r="2.05" fill="#8c1c2c"/>
<circle cx="142.8" cy="581.8" r="2.05" fill="#8c1c2c"/>
<circle cx="153.6" cy="584.4" r="2.05" fill="#8c1c2c"/>
<circle cx="142.8" cy="587.9" r="2.05" fill="#8c1c2c"/>
<circle cx="153.6" cy="588.3" r="2.05" fill="#8c1c2c"/>
<circle cx="142.8" cy="592.2" r="2.05" fill="#8c1c2c"/>
<circle cx="153.6" cy="595.7" r="2.05" fill="#8c1c2c"/>
<circle cx="147.9" cy="605.3" r="2.05" fill="#8c1c2c"/>
<line x1="240.8" y1="505" x2="240.8" y2="614.2" stroke="#3c3c3c" stroke-width="1.2"/>
<line x1="238.2" y1="506.9" x2="240.8" y2="506.9" stroke="#3c3c3c" stroke-width="1"/>
<text x="234.9" y="509.2" font-size="6.4" text-anchor="end" fill="#333333" textLength="3.2" lengthAdjust="spacingAndGlyphs">2</text>
<line x1="238.2" y1="524.6" x2="240.8" y2="524.6" stroke="#3c3c3c" stroke-width="1"/>
<text x="234.9" y="526.9" font-size="6.4" text-anchor="end" fill="#333333" textLength="3.2" lengthAdjust="spacingAndGlyphs">0</text>
<line x1="238.2" y1="542.3" x2="240.8" y2="542.3" stroke="#3c3c3c" stroke-width="1"/>
<text x="234.9" y="544.6" font-size="6.4" text-anchor="end" fill="#333333" textLength="5.12" lengthAdjust="spacingAndGlyphs">−2</text>
<line x1="238.2" y1="560" x2="240.8" y2="560" stroke="#3c3c3c" stroke-width="1"/>
<text x="234.9" y="562.3" font-size="6.4" text-anchor="end" fill="#333333" textLength="5.12" lengthAdjust="spacingAndGlyphs">−4</text>
<line x1="238.2" y1="577.7" x2="240.8" y2="577.7" stroke="#3c3c3c" stroke-width="1"/>
<text x="234.9" y="580" font-size="6.4" text-anchor="end" fill="#333333" textLength="5.12" lengthAdjust="spacingAndGlyphs">−6</text>
<line x1="238.2" y1="595.4" x2="240.8" y2="595.4" stroke="#3c3c3c" stroke-width="1"/>
<text x="234.9" y="597.7" font-size="6.4" text-anchor="end" fill="#333333" textLength="5.12" lengthAdjust="spacingAndGlyphs">−8</text>
<line x1="238.2" y1="613.1" x2="240.8" y2="613.1" stroke="#3c3c3c" stroke-width="1"/>
<text x="234.9" y="615.4" font-size="6.4" text-anchor="end" fill="#333333" textLength="8.32" lengthAdjust="spacingAndGlyphs">−10</text>
<rect x="290.2" y="526.6" width="14.7" height="40.4" fill="#e3e2e8"/>
<rect x="305.2" y="526.6" width="16.1" height="19.6" fill="#ea9a90"/>
<line x1="240.2" y1="524.6" x2="330" y2="524.6" stroke="#3c3c3c" stroke-width="1.2"/>
<line x1="240.2" y1="613.8" x2="330.4" y2="613.8" stroke="#3c3c3c" stroke-width="1.2"/>
<line x1="264.8" y1="613.8" x2="264.8" y2="616.4" stroke="#3c3c3c" stroke-width="1"/>
<line x1="305.7" y1="613.8" x2="305.7" y2="616.4" stroke="#3c3c3c" stroke-width="1"/>
<text x="265" y="625.4" font-size="7" text-anchor="middle" fill="#333333" textLength="13.8" lengthAdjust="spacingAndGlyphs">NaCl</text>
<text x="305.5" y="625.4" font-size="7" text-anchor="middle" fill="#333333" textLength="10.5" lengthAdjust="spacingAndGlyphs">LPS</text>
<text x="218.4" y="557.7" font-size="6.9" text-anchor="middle" fill="#333333" textLength="73.4" lengthAdjust="spacingAndGlyphs" transform="rotate(-90 218.4 557.7)">Temperature change [°C]</text>
<line x1="256.4" y1="590.3" x2="297.3" y2="590.3" stroke="#767676" stroke-width="0.75"/>
<text x="277.5" y="597.3" font-size="7.2" text-anchor="middle" fill="#444">****</text>
<line x1="273.4" y1="596.7" x2="314" y2="596.7" stroke="#767676" stroke-width="0.75"/>
<text x="293.3" y="603.6" font-size="7.2" text-anchor="middle" fill="#444">*</text>
<line x1="297.3" y1="602.8" x2="314" y2="602.8" stroke="#767676" stroke-width="0.75"/>
<text x="305.3" y="609.8" font-size="7.2" text-anchor="middle" fill="#444">***</text>
<line x1="259.9" y1="530.1" x2="259.9" y2="526.5" stroke="#333" stroke-width="1"/>
<line x1="257.4" y1="530.1" x2="262.4" y2="530.1" stroke="#333" stroke-width="1"/>
<line x1="257.4" y1="526.5" x2="262.4" y2="526.5" stroke="#333" stroke-width="1"/>
<circle cx="250.7" cy="530.1" r="1.75" fill="#fff" stroke="#5c5c5c" stroke-width="0.95"/>
<circle cx="257" cy="527.2" r="1.75" fill="#fff" stroke="#5c5c5c" stroke-width="0.95"/>
<circle cx="263.4" cy="524.4" r="1.75" fill="#fff" stroke="#5c5c5c" stroke-width="0.95"/>
<circle cx="263.4" cy="530.1" r="1.75" fill="#fff" stroke="#5c5c5c" stroke-width="0.95"/>
<circle cx="259.9" cy="528.4" r="1.75" fill="#fff" stroke="#5c5c5c" stroke-width="0.95"/>
<line x1="272.9" y1="530.1" x2="272.9" y2="521.4" stroke="#333" stroke-width="1"/>
<line x1="270.1" y1="530.1" x2="275.7" y2="530.1" stroke="#333" stroke-width="1"/>
<line x1="270.1" y1="521.4" x2="275.7" y2="521.4" stroke="#333" stroke-width="1"/>
<circle cx="272.9" cy="519.2" r="2.05" fill="#8c1c2c"/>
<circle cx="272.9" cy="526.6" r="2.05" fill="#8c1c2c"/>
<circle cx="266.8" cy="528.9" r="2.05" fill="#8c1c2c"/>
<circle cx="279.8" cy="528.4" r="2.05" fill="#8c1c2c"/>
<line x1="297.7" y1="583.4" x2="297.7" y2="552.7" stroke="#333" stroke-width="1"/>
<line x1="294.2" y1="583.4" x2="301.2" y2="583.4" stroke="#333" stroke-width="1"/>
<line x1="294.2" y1="552.7" x2="301.2" y2="552.7" stroke="#333" stroke-width="1"/>
<circle cx="293.5" cy="547.8" r="1.75" fill="#fff" stroke="#5c5c5c" stroke-width="0.95"/>
<circle cx="301.3" cy="548.9" r="1.75" fill="#fff" stroke="#5c5c5c" stroke-width="0.95"/>
<circle cx="297.7" cy="554.8" r="1.75" fill="#fff" stroke="#5c5c5c" stroke-width="0.95"/>
<circle cx="297.7" cy="566.4" r="1.75" fill="#fff" stroke="#5c5c5c" stroke-width="0.95"/>
<circle cx="297.7" cy="574.9" r="1.75" fill="#fff" stroke="#5c5c5c" stroke-width="0.95"/>
<circle cx="293.5" cy="579.8" r="1.75" fill="#fff" stroke="#5c5c5c" stroke-width="0.95"/>
<circle cx="293.5" cy="584.8" r="1.75" fill="#fff" stroke="#5c5c5c" stroke-width="0.95"/>
<circle cx="301.3" cy="582.3" r="1.75" fill="#fff" stroke="#5c5c5c" stroke-width="0.95"/>
<line x1="312.7" y1="550.9" x2="312.7" y2="536.2" stroke="#333" stroke-width="1"/>
<line x1="309.7" y1="550.9" x2="315.7" y2="550.9" stroke="#333" stroke-width="1"/>
<line x1="309.7" y1="536.2" x2="315.7" y2="536.2" stroke="#333" stroke-width="1"/>
<circle cx="311" cy="531.8" r="2.05" fill="#8c1c2c"/>
<circle cx="315.3" cy="534.8" r="2.05" fill="#8c1c2c"/>
<circle cx="307.5" cy="544.5" r="2.05" fill="#8c1c2c"/>
<circle cx="311.3" cy="546.2" r="2.05" fill="#8c1c2c"/>
<circle cx="315.3" cy="543.9" r="2.05" fill="#8c1c2c"/>
<circle cx="319.6" cy="545.2" r="2.05" fill="#8c1c2c"/>
<circle cx="315.3" cy="549.7" r="2.05" fill="#8c1c2c"/>
<circle cx="313.6" cy="553.8" r="2.05" fill="#8c1c2c"/>
<text x="24.1" y="47.2" font-size="6.4" text-anchor="middle" fill="#333333" font-style="italic" textLength="8.5" lengthAdjust="spacingAndGlyphs">WT</text>
<text x="24.4" y="54.6" font-size="6.4" text-anchor="middle" fill="#333333" textLength="35" lengthAdjust="spacing">Control IgG/</text>
<text x="24.4" y="62" font-size="6.4" text-anchor="middle" fill="#333333" textLength="15" lengthAdjust="spacingAndGlyphs">JAQ1</text>
<text x="24.4" y="69.6" font-size="6.4" text-anchor="middle" fill="#333333" textLength="9.5" lengthAdjust="spacingAndGlyphs">i. p.</text>
<text x="69.4" y="55" font-size="6.4" text-anchor="middle" fill="#333333" textLength="26" lengthAdjust="spacingAndGlyphs">NaCl/LPS</text>
<text x="69.4" y="62.6" font-size="6.4" text-anchor="middle" fill="#333333" textLength="9.5" lengthAdjust="spacingAndGlyphs">i. n.</text>
<text x="40.4" y="94" font-size="6.4" text-anchor="middle" fill="#333333" textLength="9.2" lengthAdjust="spacing">5 d</text>
<text x="97.4" y="93.7" font-size="6.4" text-anchor="middle" fill="#333333" textLength="9" lengthAdjust="spacing">4 h</text>
<text x="55.5" y="122.6" font-size="6.4" text-anchor="middle" fill="#333333" textLength="14.5" lengthAdjust="spacingAndGlyphs">Body</text>
<text x="55.5" y="130.2" font-size="6.4" text-anchor="middle" fill="#333333" textLength="34" lengthAdjust="spacingAndGlyphs">temperature</text>
<text x="113" y="81.5" font-size="6.4" text-anchor="start" fill="#333333" textLength="14.5" lengthAdjust="spacingAndGlyphs">Body</text>
<text x="113" y="88.7" font-size="6.4" text-anchor="start" fill="#333333" textLength="35.3" lengthAdjust="spacing">temperature</text>
<text x="113" y="96.8" font-size="6.4" text-anchor="start" fill="#333333" textLength="18.2" lengthAdjust="spacing">Blood,</text>
<text x="113" y="104" font-size="6.4" text-anchor="start" fill="#333333" textLength="12.6" lengthAdjust="spacingAndGlyphs">BAL,</text>
<text x="113" y="111.8" font-size="6.4" text-anchor="start" fill="#333333" textLength="13.6" lengthAdjust="spacingAndGlyphs">Lung</text>
<line x1="29.2" y1="95.6" x2="46.5" y2="95.6" stroke="#6a6a6a" stroke-width="1.3" stroke-dasharray="1.2 1.0"/>
<path d="M46.4 93.3 L52.2 95.6 L46.4 97.9 Z" fill="#111"/>
<line x1="55.7" y1="95.6" x2="66.3" y2="95.6" stroke="#666" stroke-width="1.5"/>
<line x1="55.7" y1="113.6" x2="55.7" y2="101" stroke="#222" stroke-width="1"/>
<path d="M53.5 102.0 L55.7 97.6 L57.9 102.0 Z" fill="#111"/>
<line x1="86.3" y1="95.6" x2="104" y2="95.6" stroke="#777" stroke-width="1.6"/>
<path d="M103 93.3 L108 95.6 L103 97.9 Z" fill="#111"/>
<path d="M17 102.5 Q17.2 110 17.6 115 Q18 120 18.5 123.6" fill="none" stroke="#bba6a6" stroke-width="0.9"/>
<path d="M23.2 102.2 L37.6 122.3" stroke="#d6d6da" stroke-width="2.3" stroke-linecap="round"/>
<path d="M24.5 104 L36.5 120.6" stroke="#a4a4ac" stroke-width="0.6" stroke-dasharray="0.7 1.5"/>
<path d="M17.0 73.6 L18.4 75.9 L20.7 77.2 L21.2 78.5 L20.3 79.7 L21.2 81.6 L24.9 79.9 L26.4 79.7 L25.6 81.2 L22.3 84.6 L23.1 89.5 L23.6 95.1 L23.2 98.8 L22.6 100.6 L24.3 102.6 L23.2 103.2 L20.3 102.2 L17.0 103.4 L13.7 102.2 L11.4 102.6 L7.7 103.9 L7.0 103.1 L10.9 100.9 L10.5 96.0 L10.9 90.4 L11.8 85.3 L10.5 83.4 L7.7 80.7 L6.9 80.0 L8.2 79.8 L12.3 81.8 L13.3 79.7 L12.3 78.3 L13.3 77.2 L15.6 75.9 Z" fill="#4d4547" stroke="#4d4547" stroke-width="0.3" stroke-linejoin="round"/>
<path d="M83.2 104.6 Q88 107.6 95 107.8 Q104 108 111.6 107.5" fill="none" stroke="#c6adad" stroke-width="0.9"/>
<path d="M56.2 66.2 L64.4 78.4" stroke="#5a5a5a" stroke-width="1.0" stroke-linecap="round"/>
<path d="M56.0 65.9 L58.6 69.8" stroke="#d2d2d6" stroke-width="1.7" stroke-linecap="round"/>
<path d="M63.8 78.0 L65.5 77.6 L68.4 78.6 L71.3 79.4 L73.6 80.0 L73.3 82.1 L75.3 85.0 L78.2 88.4 L80.5 91.3 L82.2 94.8 L83.4 98.8 L83.7 102.9 L83.4 104.6 L81.1 105.4 L78.2 105.5 L77.0 106.9 L74.7 108.1 L73.8 107.6 L75.3 106.3 L74.7 105.2 L73.6 101.1 L71.8 97.1 L70.1 93.0 L68.4 90.2 L66.7 89.3 L64.9 88.5 L63.2 87.9 L61.9 86.4 L62.9 86.0 L64.9 86.9 L66.1 86.3 L66.4 83.8 L64.6 80.3 Z" fill="#4d4547" stroke="#4d4547" stroke-width="0.3" stroke-linejoin="round"/>
<ellipse cx="73.6" cy="90.8" rx="3.4" ry="2.4" fill="#cf9aa2" opacity="0.9" transform="rotate(45 73.6 90.8)"/>
<ellipse cx="67.6" cy="81.0" rx="1.6" ry="1.0" fill="#7c7274" opacity="0.8" transform="rotate(40 67.6 81)"/>
<text x="214.1" y="22.6" font-size="7.6" text-anchor="middle" fill="#333333" textLength="49.2" lengthAdjust="spacing">BAL cytospin</text>
<line x1="167.4" y1="27.8" x2="260.4" y2="27.8" stroke="#555" stroke-width="1.1"/>
<text x="189.2" y="37.4" font-size="7" text-anchor="middle" fill="#333333" textLength="38.5" lengthAdjust="spacing">Control IgG</text>
<text x="237.7" y="37.4" font-size="7" text-anchor="middle" fill="#333333" textLength="20" lengthAdjust="spacing">JAQ1</text>
<text x="162.6" y="64.5" font-size="7" text-anchor="middle" fill="#333333" textLength="15" lengthAdjust="spacingAndGlyphs" transform="rotate(-90 162.6 64.5)">NaCl</text>
<text x="162.6" y="112.2" font-size="7" text-anchor="middle" fill="#333333" textLength="11.5" lengthAdjust="spacingAndGlyphs" transform="rotate(-90 162.6 112.2)">LPS</text>
<rect x="166.7" y="41.3" width="45.1" height="45.1" fill="#e7e3ea" stroke="#8d8b90" stroke-width="1"/>
<line x1="205.3" y1="84.7" x2="209.8" y2="84.7" stroke="#9a9a9a" stroke-width="0.6"/>
<rect x="215.8" y="41.3" width="46.1" height="45.1" fill="#e7e3ea" stroke="#8d8b90" stroke-width="1"/>
<line x1="255.4" y1="84.7" x2="259.9" y2="84.7" stroke="#9a9a9a" stroke-width="0.6"/>
<rect x="166.7" y="90.2" width="45.1" height="45.8" fill="#e7e3ea" stroke="#8d8b90" stroke-width="1"/>
<line x1="205.3" y1="134.3" x2="209.8" y2="134.3" stroke="#9a9a9a" stroke-width="0.6"/>
<rect x="215.8" y="90.2" width="46.1" height="45.8" fill="#e7e3ea" stroke="#8d8b90" stroke-width="1"/>
<line x1="255.4" y1="134.3" x2="259.9" y2="134.3" stroke="#9a9a9a" stroke-width="0.6"/>
<circle cx="206.8" cy="43.3" r="1.05" fill="#44447c"/>
<circle cx="174.1" cy="51" r="1.05" fill="#44447c"/>
<circle cx="200.1" cy="51" r="1.05" fill="#a8a8c6"/>
<circle cx="172.7" cy="58.7" r="1.05" fill="#44447c"/>
<circle cx="182.3" cy="62.6" r="1.15" fill="#44447c"/>
<circle cx="210.2" cy="64" r="1.05" fill="#44447c"/>
<circle cx="203.3" cy="65.2" r="1.15" fill="#44447c"/>
<circle cx="174.6" cy="74.1" r="1.05" fill="#44447c"/>
<circle cx="196" cy="78" r="1.05" fill="#7474a2"/>
<circle cx="204.9" cy="77.5" r="1.05" fill="#44447c"/>
<circle cx="197.2" cy="84" r="1.05" fill="#44447c"/>
<circle cx="189" cy="85.6" r="1.05" fill="#44447c"/>
<circle cx="224.6" cy="44.8" r="1.05" fill="#44447c"/>
<circle cx="227.9" cy="42.1" r="1.05" fill="#7474a2"/>
<circle cx="235.9" cy="44.3" r="1.05" fill="#44447c"/>
<circle cx="252.9" cy="44" r="1.05" fill="#44447c"/>
<circle cx="247.8" cy="48.4" r="1.05" fill="#44447c"/>
<circle cx="257.8" cy="49.1" r="1.05" fill="#44447c"/>
<circle cx="248.8" cy="52.3" r="1.05" fill="#44447c"/>
<circle cx="254.9" cy="54.6" r="1.05" fill="#44447c"/>
<circle cx="223.1" cy="60" r="1.05" fill="#44447c"/>
<circle cx="231.8" cy="62.3" r="1.15" fill="#44447c"/>
<circle cx="253.4" cy="60" r="1.05" fill="#44447c"/>
<circle cx="236.3" cy="66.1" r="1.05" fill="#44447c"/>
<circle cx="248.8" cy="67.8" r="1.05" fill="#7474a2"/>
<circle cx="253.6" cy="68.8" r="1.05" fill="#44447c"/>
<circle cx="219.8" cy="75.7" r="1.05" fill="#a8a8c6"/>
<circle cx="223.6" cy="75.7" r="1.05" fill="#44447c"/>
<circle cx="225.3" cy="74.6" r="1.05" fill="#44447c"/>
<circle cx="233.7" cy="73.8" r="1.05" fill="#44447c"/>
<circle cx="241.7" cy="75.3" r="1.2" fill="#7474a2"/>
<circle cx="248.8" cy="78.6" r="1.05" fill="#44447c"/>
<circle cx="220.7" cy="80.8" r="1.05" fill="#44447c"/>
<circle cx="169.8" cy="94.5" r="1.05" fill="#acacc6"/>
<circle cx="171.9" cy="96.8" r="1.2" fill="#52527e"/>
<circle cx="181.5" cy="96.2" r="1.2" fill="#52527e"/>
<circle cx="190.2" cy="98.1" r="1.2" fill="#7e7ea2"/>
<circle cx="182.8" cy="100" r="1.05" fill="#acacc6"/>
<circle cx="177" cy="105.1" r="1.05" fill="#7e7ea2"/>
<circle cx="186.2" cy="104.8" r="1.05" fill="#acacc6"/>
<circle cx="185.2" cy="107.7" r="1.05" fill="#7e7ea2"/>
<circle cx="173.2" cy="108.2" r="1.05" fill="#7e7ea2"/>
<circle cx="170.8" cy="110.9" r="1.05" fill="#7e7ea2"/>
<circle cx="176.5" cy="109" r="1.2" fill="#7e7ea2"/>
<circle cx="190.5" cy="108.2" r="1.05" fill="#7e7ea2"/>
<circle cx="197.7" cy="106.3" r="1.05" fill="#7e7ea2"/>
<circle cx="198.2" cy="109.3" r="1.05" fill="#52527e"/>
<circle cx="193.8" cy="112" r="1.2" fill="#52527e"/>
<circle cx="191" cy="114.4" r="1.5" fill="#52527e"/>
<circle cx="202.5" cy="110.6" r="1.05" fill="#7e7ea2"/>
<circle cx="208.8" cy="110.3" r="1.5" fill="#5e5eaa"/>
<circle cx="196.7" cy="116.8" r="1.05" fill="#7e7ea2"/>
<circle cx="191" cy="118.8" r="1.05" fill="#acacc6"/>
<circle cx="169.3" cy="118.6" r="1.05" fill="#7e7ea2"/>
<circle cx="177.5" cy="116.7" r="1.05" fill="#acacc6"/>
<circle cx="203" cy="114.9" r="1.3" fill="#acacc6"/>
<circle cx="182.1" cy="124.1" r="1.5" fill="#7e7ea2"/>
<circle cx="202.5" cy="123.1" r="1.2" fill="#7e7ea2"/>
<circle cx="207.3" cy="124.1" r="1.2" fill="#acacc6"/>
<circle cx="169.8" cy="127.2" r="1.05" fill="#7e7ea2"/>
<circle cx="189" cy="128.4" r="1.05" fill="#acacc6"/>
<circle cx="200.6" cy="130.3" r="1.05" fill="#7e7ea2"/>
<circle cx="188.1" cy="133.2" r="1.3" fill="#7e7ea2"/>
<circle cx="204.9" cy="134" r="1.3" fill="#7e7ea2"/>
<circle cx="179.4" cy="133.2" r="1.05" fill="#acacc6"/>
<circle cx="167.9" cy="115.9" r="1.05" fill="#acacc6"/>
<circle cx="180" cy="112" r="1.05" fill="#acacc6"/>
<circle cx="196" cy="101" r="1.05" fill="#acacc6"/>
<circle cx="233.2" cy="94.3" r="1.2" fill="#52527e"/>
<circle cx="235.3" cy="93.6" r="1.05" fill="#7e7ea2"/>
<circle cx="245.7" cy="92" r="1.05" fill="#7e7ea2"/>
<circle cx="255.3" cy="94.7" r="1.05" fill="#acacc6"/>
<circle cx="234.7" cy="97.6" r="1.05" fill="#7e7ea2"/>
<circle cx="236.3" cy="100" r="1.2" fill="#52527e"/>
<circle cx="237.1" cy="102.2" r="1.2" fill="#52527e"/>
<circle cx="241.9" cy="101.5" r="1.2" fill="#52527e"/>
<circle cx="251.5" cy="101.9" r="1.2" fill="#7e7ea2"/>
<circle cx="243.3" cy="106.8" r="1.2" fill="#7e7ea2"/>
<circle cx="226.5" cy="109.2" r="1.05" fill="#7e7ea2"/>
<circle cx="236.1" cy="114" r="1.2" fill="#7e7ea2"/>
<circle cx="246.7" cy="113.2" r="1.2" fill="#7e7ea2"/>
<circle cx="232.8" cy="116.7" r="1.05" fill="#7e7ea2"/>
<circle cx="223.1" cy="119" r="1.05" fill="#7e7ea2"/>
<circle cx="228" cy="120.7" r="1.05" fill="#acacc6"/>
<circle cx="219.3" cy="130.3" r="1.05" fill="#52527e"/>
<circle cx="220.7" cy="131.8" r="1.05" fill="#7e7ea2"/>
<text x="345.6" y="347" font-size="8" text-anchor="middle" fill="#333333" textLength="18.3" lengthAdjust="spacing">NaCl</text>
<line x1="303.8" y1="351.3" x2="387.6" y2="351.3" stroke="#555" stroke-width="1.1"/>
<text x="323.7" y="360.6" font-size="6.8" text-anchor="middle" fill="#333333" textLength="38.3" lengthAdjust="spacing">Control IgG</text>
<text x="370.3" y="360.6" font-size="6.8" text-anchor="middle" fill="#333333" textLength="18.3" lengthAdjust="spacing">JAQ1</text>
<text x="345.7" y="397.9" font-size="8" text-anchor="middle" fill="#333333" textLength="14.2" lengthAdjust="spacingAndGlyphs">LPS</text>
<line x1="304" y1="402.9" x2="387.7" y2="402.9" stroke="#555" stroke-width="1.1"/>
<text x="323.7" y="412" font-size="6.8" text-anchor="middle" fill="#333333" textLength="38.3" lengthAdjust="spacing">Control IgG</text>
<text x="371.2" y="412" font-size="6.8" text-anchor="middle" fill="#333333" textLength="18.3" lengthAdjust="spacing">JAQ1</text>
<defs><filter id="bl" x="-50%" y="-50%" width="200%" height="200%"><feGaussianBlur stdDeviation="1.3"/></filter><filter id="bl2" x="-50%" y="-50%" width="200%" height="200%"><feGaussianBlur stdDeviation="0.7"/></filter></defs>
<clipPath id="cl0"><path d="M317.3 365.5 C319.4 365.1 322.8 365.9 323.8 367.4 C324.8 368.9 323.2 372.6 323.5 374.7 C323.8 376.8 325.5 377.8 325.4 379.7 C325.3 381.6 324.2 383.9 322.7 385.8 C321.2 387.7 318.4 390.5 316.5 390.8 C314.6 391.1 312.6 389.4 311.5 387.4 C310.4 385.4 309.6 381.8 309.6 378.9 C309.6 375.9 310.2 371.9 311.5 369.7 C312.8 367.5 315.2 365.9 317.3 365.5 Z"/></clipPath>
<path d="M317.3 365.5 C319.4 365.1 322.8 365.9 323.8 367.4 C324.8 368.9 323.2 372.6 323.5 374.7 C323.8 376.8 325.5 377.8 325.4 379.7 C325.3 381.6 324.2 383.9 322.7 385.8 C321.2 387.7 318.4 390.5 316.5 390.8 C314.6 391.1 312.6 389.4 311.5 387.4 C310.4 385.4 309.6 381.8 309.6 378.9 C309.6 375.9 310.2 371.9 311.5 369.7 C312.8 367.5 315.2 365.9 317.3 365.5 Z" fill="#e6dad3" filter="url(#bl2)"/>
<g clip-path="url(#cl0)"><g filter="url(#bl)"><ellipse cx="316" cy="372" rx="5" ry="5" fill="#f1ebe7" opacity="0.9"/><ellipse cx="315" cy="389" rx="4" ry="2.5" fill="#9d8f8a" opacity="0.8"/><ellipse cx="322" cy="381" rx="2.5" ry="4" fill="#dccbc4" opacity="0.7"/></g></g>
<clipPath id="cl1"><path d="M330.4 365.8 C331.9 365.8 335.4 367.4 336.5 369.7 C337.6 372.0 337.7 376.4 337.3 379.7 C336.9 383.0 335.4 387.9 334.2 389.3 C333.0 390.7 331.5 389.8 330.4 388.2 C329.2 386.6 327.8 382.8 327.3 379.7 C326.9 376.6 327.2 372.0 327.7 369.7 C328.2 367.4 328.9 365.8 330.4 365.8 Z"/></clipPath>
<path d="M330.4 365.8 C331.9 365.8 335.4 367.4 336.5 369.7 C337.6 372.0 337.7 376.4 337.3 379.7 C336.9 383.0 335.4 387.9 334.2 389.3 C333.0 390.7 331.5 389.8 330.4 388.2 C329.2 386.6 327.8 382.8 327.3 379.7 C326.9 376.6 327.2 372.0 327.7 369.7 C328.2 367.4 328.9 365.8 330.4 365.8 Z" fill="#e7dbd5" filter="url(#bl2)"/>
<g clip-path="url(#cl1)"><g filter="url(#bl)"><ellipse cx="332" cy="374" rx="3" ry="6" fill="#f0e8e4" opacity="0.8"/><ellipse cx="333" cy="388" rx="3" ry="2" fill="#c9b6b0" opacity="0.7"/></g></g>
<clipPath id="cl2"><path d="M365.4 365.4 C367.3 364.9 369.6 364.5 370.8 366.2 C372.0 367.9 372.7 373.0 372.7 375.4 C372.7 377.8 371.5 379.6 370.8 380.8 C370.1 382.0 368.9 381.2 368.5 382.3 C368.1 383.4 368.9 386.4 368.1 387.7 C367.3 389.0 365.5 390.6 363.8 390.4 C362.1 390.1 359.0 388.3 357.7 386.2 C356.4 384.1 355.9 380.5 356.2 377.7 C356.4 374.9 357.7 371.2 359.2 369.2 C360.7 367.1 363.5 365.9 365.4 365.4 Z"/></clipPath>
<path d="M365.4 365.4 C367.3 364.9 369.6 364.5 370.8 366.2 C372.0 367.9 372.7 373.0 372.7 375.4 C372.7 377.8 371.5 379.6 370.8 380.8 C370.1 382.0 368.9 381.2 368.5 382.3 C368.1 383.4 368.9 386.4 368.1 387.7 C367.3 389.0 365.5 390.6 363.8 390.4 C362.1 390.1 359.0 388.3 357.7 386.2 C356.4 384.1 355.9 380.5 356.2 377.7 C356.4 374.9 357.7 371.2 359.2 369.2 C360.7 367.1 363.5 365.9 365.4 365.4 Z" fill="#e9dcda" filter="url(#bl2)"/>
<g clip-path="url(#cl2)"><g filter="url(#bl)"><ellipse cx="362" cy="369" rx="5" ry="4" fill="#f2efee" opacity="0.95"/><ellipse cx="370.5" cy="377" rx="2.5" ry="4" fill="#d9aaa8" opacity="0.9"/><ellipse cx="364" cy="385" rx="5" ry="4" fill="#dfbcba" opacity="0.8"/><ellipse cx="364" cy="390" rx="3" ry="1.5" fill="#a09090" opacity="0.6"/></g></g>
<clipPath id="cl3"><path d="M376.2 367.3 C377.3 366.2 380.2 366.9 381.5 368.5 C382.8 370.1 384.1 374.2 384.2 376.9 C384.3 379.6 383.2 382.9 382.3 384.6 C381.4 386.3 379.6 387.0 378.5 386.9 C377.4 386.8 376.0 385.7 375.4 383.8 C374.8 381.9 374.9 378.1 375.0 375.4 C375.1 372.6 375.1 368.4 376.2 367.3 Z"/></clipPath>
<path d="M376.2 367.3 C377.3 366.2 380.2 366.9 381.5 368.5 C382.8 370.1 384.1 374.2 384.2 376.9 C384.3 379.6 383.2 382.9 382.3 384.6 C381.4 386.3 379.6 387.0 378.5 386.9 C377.4 386.8 376.0 385.7 375.4 383.8 C374.8 381.9 374.9 378.1 375.0 375.4 C375.1 372.6 375.1 368.4 376.2 367.3 Z" fill="#d8aaa6" filter="url(#bl2)"/>
<g clip-path="url(#cl3)"><g filter="url(#bl)"><ellipse cx="379" cy="373" rx="3" ry="4" fill="#e6c4c0" opacity="0.8"/><ellipse cx="378.5" cy="386" rx="3" ry="1.5" fill="#9a9494" opacity="0.7"/></g></g>
<clipPath id="cl4"><path d="M318.1 416.2 C319.7 416.1 322.7 416.2 323.5 417.4 C324.3 418.6 323.1 421.2 323.1 423.5 C323.2 425.8 324.2 428.5 323.8 431.2 C323.4 433.9 321.9 437.7 320.4 439.7 C318.9 441.7 316.7 443.1 315.0 443.2 C313.3 443.3 311.3 442.5 310.4 440.5 C309.5 438.5 309.5 434.1 309.6 431.2 C309.7 428.2 310.0 425.0 310.8 422.8 C311.6 420.6 313.0 419.3 314.2 418.2 C315.4 417.1 316.6 416.3 318.1 416.2 Z"/></clipPath>
<path d="M318.1 416.2 C319.7 416.1 322.7 416.2 323.5 417.4 C324.3 418.6 323.1 421.2 323.1 423.5 C323.2 425.8 324.2 428.5 323.8 431.2 C323.4 433.9 321.9 437.7 320.4 439.7 C318.9 441.7 316.7 443.1 315.0 443.2 C313.3 443.3 311.3 442.5 310.4 440.5 C309.5 438.5 309.5 434.1 309.6 431.2 C309.7 428.2 310.0 425.0 310.8 422.8 C311.6 420.6 313.0 419.3 314.2 418.2 C315.4 417.1 316.6 416.3 318.1 416.2 Z" fill="#b6b3c0" filter="url(#bl2)"/>
<g clip-path="url(#cl4)"><g filter="url(#bl)"><ellipse cx="314" cy="423" rx="4.5" ry="5" fill="#7884a4" opacity="0.85"/><ellipse cx="320" cy="420.5" rx="3" ry="3" fill="#d6ced2" opacity="0.8"/><ellipse cx="316" cy="431" rx="5" ry="3" fill="#9298ae" opacity="0.8"/><ellipse cx="314" cy="439" rx="4.5" ry="3.5" fill="#c8acb2" opacity="0.85"/><ellipse cx="313" cy="442.5" rx="3" ry="1.5" fill="#7a6a70" opacity="0.7"/></g></g>
<clipPath id="cl5"><path d="M330.4 416.2 C331.9 416.1 334.8 418.0 335.8 420.5 C336.8 423.0 337.0 428.2 336.5 431.2 C336.0 434.2 334.0 437.5 332.7 438.5 C331.4 439.5 329.8 438.9 328.8 437.4 C327.8 435.9 326.9 432.4 326.5 429.7 C326.1 427.0 325.9 423.4 326.5 421.2 C327.1 418.9 328.8 416.3 330.4 416.2 Z"/></clipPath>
<path d="M330.4 416.2 C331.9 416.1 334.8 418.0 335.8 420.5 C336.8 423.0 337.0 428.2 336.5 431.2 C336.0 434.2 334.0 437.5 332.7 438.5 C331.4 439.5 329.8 438.9 328.8 437.4 C327.8 435.9 326.9 432.4 326.5 429.7 C326.1 427.0 325.9 423.4 326.5 421.2 C327.1 418.9 328.8 416.3 330.4 416.2 Z" fill="#aab0c4" filter="url(#bl2)"/>
<g clip-path="url(#cl5)"><g filter="url(#bl)"><ellipse cx="329.5" cy="423" rx="2.3" ry="5" fill="#4a5890" opacity="0.9"/><ellipse cx="333.5" cy="428" rx="2.5" ry="5" fill="#9098b6" opacity="0.8"/><ellipse cx="331.5" cy="436.5" rx="3.5" ry="2.5" fill="#d0c6cc" opacity="0.85"/></g></g>
<clipPath id="cl6"><path d="M358.5 416.9 C361.2 416.2 369.3 415.5 371.5 416.5 C373.7 417.5 372.2 421.2 371.9 423.1 C371.6 425.0 369.7 425.6 369.6 427.7 C369.5 429.8 371.4 433.2 371.5 435.4 C371.6 437.6 371.3 439.7 370.0 440.8 C368.7 441.9 366.0 442.4 363.8 441.9 C361.6 441.4 358.4 439.9 356.9 437.7 C355.4 435.5 354.9 431.3 354.6 428.5 C354.4 425.7 354.8 422.7 355.4 420.8 C356.0 418.9 355.8 417.6 358.5 416.9 Z"/></clipPath>
<path d="M358.5 416.9 C361.2 416.2 369.3 415.5 371.5 416.5 C373.7 417.5 372.2 421.2 371.9 423.1 C371.6 425.0 369.7 425.6 369.6 427.7 C369.5 429.8 371.4 433.2 371.5 435.4 C371.6 437.6 371.3 439.7 370.0 440.8 C368.7 441.9 366.0 442.4 363.8 441.9 C361.6 441.4 358.4 439.9 356.9 437.7 C355.4 435.5 354.9 431.3 354.6 428.5 C354.4 425.7 354.8 422.7 355.4 420.8 C356.0 418.9 355.8 417.6 358.5 416.9 Z" fill="#dccdd0" filter="url(#bl2)"/>
<g clip-path="url(#cl6)"><g filter="url(#bl)"><ellipse cx="361.5" cy="422.5" rx="7.5" ry="1.5" fill="#4d3c50" opacity="0.9" transform="rotate(38 361.5 422.5)"/><ellipse cx="356.5" cy="428" rx="2.5" ry="5" fill="#8c7686" opacity="0.65"/><ellipse cx="366" cy="433" rx="4" ry="5" fill="#e8dcdc" opacity="0.8"/><ellipse cx="363" cy="441.5" rx="3" ry="1.5" fill="#9a8890" opacity="0.7"/></g></g>
<clipPath id="cl7"><path d="M376.9 416.2 C378.4 416.7 382.1 419.3 383.8 421.5 C385.5 423.7 386.6 426.2 386.9 429.2 C387.2 432.1 386.4 436.9 385.4 439.2 C384.4 441.5 382.5 443.5 380.8 443.1 C379.1 442.7 376.4 439.8 375.4 436.9 C374.4 433.9 374.7 428.5 374.6 425.4 C374.5 422.3 374.6 420.0 375.0 418.5 C375.4 417.0 375.4 415.7 376.9 416.2 Z"/></clipPath>
<path d="M376.9 416.2 C378.4 416.7 382.1 419.3 383.8 421.5 C385.5 423.7 386.6 426.2 386.9 429.2 C387.2 432.1 386.4 436.9 385.4 439.2 C384.4 441.5 382.5 443.5 380.8 443.1 C379.1 442.7 376.4 439.8 375.4 436.9 C374.4 433.9 374.7 428.5 374.6 425.4 C374.5 422.3 374.6 420.0 375.0 418.5 C375.4 417.0 375.4 415.7 376.9 416.2 Z" fill="#ddd0d6" filter="url(#bl2)"/>
<g clip-path="url(#cl7)"><g filter="url(#bl)"><ellipse cx="377" cy="421" rx="2.2" ry="4" fill="#5e4e68" opacity="0.85"/><ellipse cx="380.5" cy="437.5" rx="3.2" ry="3.5" fill="#6c7096" opacity="0.85"/><ellipse cx="383.5" cy="428" rx="2.5" ry="5" fill="#e6dcdf" opacity="0.8"/></g></g>
<rect x="0.5" y="0.5" width="519" height="642" fill="none" stroke="#5a5a5a" stroke-width="1"/>
</svg></body></html>
